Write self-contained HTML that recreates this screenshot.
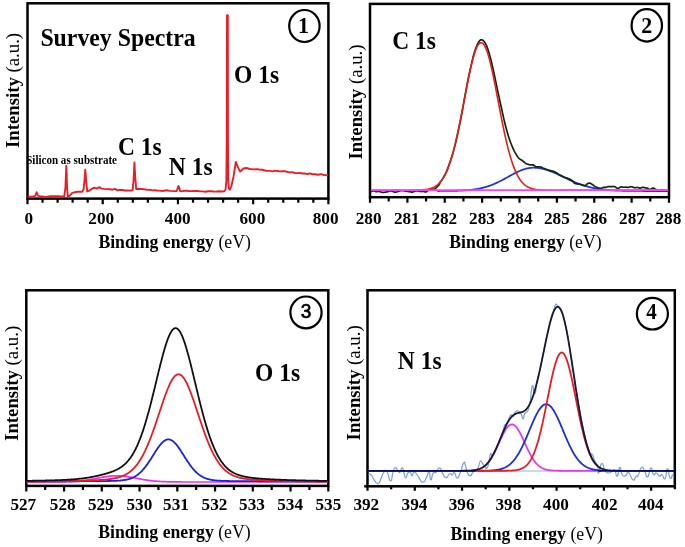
<!DOCTYPE html>
<html><head><meta charset="utf-8"><style>
html,body{margin:0;padding:0;background:#fff;}
svg{display:block;filter:blur(0.35px);}
</style></head><body>
<svg width="685" height="547" viewBox="0 0 685 547">
<rect width="685" height="547" fill="#fff"/>
<rect x="27.5" y="3.3" width="300.9" height="195.29999999999998" fill="none" stroke="#000" stroke-width="2.5"/>
<path d="M27.50,198.6 V204.2 M102.72,198.6 V204.2 M177.95,198.6 V204.2 M253.18,198.6 V204.2 M328.40,198.6 V204.2 M42.55,198.6 V202.79999999999998 M57.59,198.6 V202.79999999999998 M72.63,198.6 V202.79999999999998 M87.68,198.6 V202.79999999999998 M117.77,198.6 V202.79999999999998 M132.81,198.6 V202.79999999999998 M147.86,198.6 V202.79999999999998 M162.90,198.6 V202.79999999999998 M193.00,198.6 V202.79999999999998 M208.04,198.6 V202.79999999999998 M223.09,198.6 V202.79999999999998 M238.13,198.6 V202.79999999999998 M268.22,198.6 V202.79999999999998 M283.26,198.6 V202.79999999999998 M298.31,198.6 V202.79999999999998 M313.35,198.6 V202.79999999999998 " stroke="#000" stroke-width="2.2" fill="none"/>
<text transform="translate(28.9,224.1) scale(1.0,0.92)" font-family="Liberation Serif" font-size="17.2" font-weight="bold" text-anchor="middle" >0</text>
<text transform="translate(101.2,224.1) scale(1.0,0.92)" font-family="Liberation Serif" font-size="17.2" font-weight="bold" text-anchor="middle" >200</text>
<text transform="translate(177.7,224.1) scale(1.0,0.92)" font-family="Liberation Serif" font-size="17.2" font-weight="bold" text-anchor="middle" >400</text>
<text transform="translate(252.4,224.1) scale(1.0,0.92)" font-family="Liberation Serif" font-size="17.2" font-weight="bold" text-anchor="middle" >600</text>
<text transform="translate(325.6,224.1) scale(1.0,0.92)" font-family="Liberation Serif" font-size="17.2" font-weight="bold" text-anchor="middle" >800</text>
<text transform="translate(98.4,247.6) scale(1,1.058)" font-family="Liberation Serif" font-size="17.7" font-weight="bold">Binding energy <tspan font-weight="normal">(eV)</tspan></text>
<text transform="translate(19.3,148.0) scale(1,1.025) rotate(-90)" font-family="Liberation Serif" font-size="18.3" font-weight="bold">Intensity <tspan font-weight="normal">(a.u.)</tspan></text>
<text transform="translate(40.4,45.5) scale(1.0,1.07)" font-family="Liberation Serif" font-size="23.8" font-weight="bold" text-anchor="start" >Survey Spectra</text>
<text transform="translate(234.0,82.9) scale(1.0,1.07)" font-family="Liberation Serif" font-size="23.5" font-weight="bold" text-anchor="start" >O 1s</text>
<text transform="translate(118.0,154.5) scale(1.0,1.07)" font-family="Liberation Serif" font-size="23.5" font-weight="bold" text-anchor="start" >C 1s</text>
<text transform="translate(168.8,174.6) scale(1.0,1.07)" font-family="Liberation Serif" font-size="23.5" font-weight="bold" text-anchor="start" >N 1s</text>
<text transform="translate(26.2,163.8) scale(1.0,1.1)" font-family="Liberation Serif" font-size="11.05" font-weight="bold" text-anchor="start" >Silicon as substrate</text>
<ellipse cx="304.4" cy="26.0" rx="15.2" ry="16.0" fill="none" stroke="#000" stroke-width="2.2"/>
<text transform="translate(303.6,33.3) scale(1.0,1.07)" font-family="Liberation Serif" font-size="22" font-weight="bold" text-anchor="middle" >1</text>
<polyline points="28.50,196.60 33.00,196.40 35.30,195.80 36.60,192.20 37.90,195.60 40.00,196.50 42.50,196.46 45.00,196.88 47.50,196.78 50.00,196.30 52.84,196.12 55.68,196.20 58.52,196.12 61.36,196.50 64.20,196.30 65.40,188.00 66.30,165.60 67.10,188.00 67.90,197.10 70.00,195.30 72.30,192.90 75.00,192.20 77.60,191.70 80.00,191.60 82.00,191.90 83.60,189.50 84.50,180.00 85.30,169.60 86.20,181.00 87.20,191.50 90.00,190.30 92.00,188.80 94.20,187.70 96.50,188.60 98.50,187.60 99.60,187.20 101.00,188.40 103.80,188.90 106.90,189.08 110.00,189.30 112.50,189.71 115.00,188.95 117.50,190.30 120.00,189.90 122.50,190.04 125.00,190.49 127.50,190.38 130.00,190.60 132.60,190.20 133.60,180.00 134.40,162.50 135.30,178.00 136.20,189.00 140.60,188.90 143.73,189.10 146.87,189.73 150.00,189.90 152.50,190.42 155.00,190.30 157.50,190.60 160.00,190.61 162.50,190.96 165.00,190.48 167.50,190.31 170.00,190.90 173.40,191.09 176.80,191.00 177.80,187.50 178.50,185.90 179.30,188.00 180.20,191.20 183.03,190.99 185.86,190.59 188.69,191.00 191.51,191.15 194.34,190.93 197.17,190.85 200.00,191.40 202.68,191.40 205.36,191.69 208.03,191.29 210.71,191.10 213.39,191.48 216.07,191.58 218.74,191.22 221.42,191.50 224.10,191.30 225.60,189.50 226.40,180.00 226.75,140.00 227.00,15.30 227.80,15.30 227.95,140.00 228.25,180.00 228.80,188.30 229.80,189.80 231.40,186.00 233.60,176.20 235.80,161.90 238.00,167.40 240.20,171.60 243.50,168.50 246.30,168.00 250.10,169.00 253.40,169.42 256.70,169.10 259.47,169.49 262.23,169.75 265.00,170.50 267.50,170.77 270.00,170.89 272.50,171.33 275.00,170.65 277.50,171.02 280.00,171.40 282.50,171.31 285.00,171.19 287.50,172.04 290.00,172.38 292.50,172.14 295.00,173.08 297.50,173.09 300.00,173.00 302.50,173.44 305.00,173.57 307.50,173.98 310.00,173.40 312.50,174.30 315.00,174.30 318.05,174.74 321.10,174.13 324.15,175.10 327.20,175.20" fill="none" stroke="#ec1c24" stroke-width="1.9" stroke-linejoin="round" stroke-linecap="round" />
<rect x="370.0" y="3.9" width="299.0" height="193.29999999999998" fill="none" stroke="#000" stroke-width="2.5"/>
<path d="M370.00,197.2 V202.7 M407.38,197.2 V202.7 M444.75,197.2 V202.7 M482.12,197.2 V202.7 M519.50,197.2 V202.7 M556.88,197.2 V202.7 M594.25,197.2 V202.7 M631.62,197.2 V202.7 M669.00,197.2 V202.7 M388.69,197.2 V201.6 M426.06,197.2 V201.6 M463.44,197.2 V201.6 M500.81,197.2 V201.6 M538.19,197.2 V201.6 M575.56,197.2 V201.6 M612.94,197.2 V201.6 M650.31,197.2 V201.6 " stroke="#000" stroke-width="2.2" fill="none"/>
<text transform="translate(368.6,224.4) scale(1.0,0.92)" font-family="Liberation Serif" font-size="17.2" font-weight="bold" text-anchor="middle" >280</text>
<text transform="translate(406.8,224.4) scale(1.0,0.92)" font-family="Liberation Serif" font-size="17.2" font-weight="bold" text-anchor="middle" >281</text>
<text transform="translate(444.3,224.4) scale(1.0,0.92)" font-family="Liberation Serif" font-size="17.2" font-weight="bold" text-anchor="middle" >282</text>
<text transform="translate(482.0,224.4) scale(1.0,0.92)" font-family="Liberation Serif" font-size="17.2" font-weight="bold" text-anchor="middle" >283</text>
<text transform="translate(519.6,224.4) scale(1.0,0.92)" font-family="Liberation Serif" font-size="17.2" font-weight="bold" text-anchor="middle" >284</text>
<text transform="translate(556.9,224.4) scale(1.0,0.92)" font-family="Liberation Serif" font-size="17.2" font-weight="bold" text-anchor="middle" >285</text>
<text transform="translate(594.3,224.4) scale(1.0,0.92)" font-family="Liberation Serif" font-size="17.2" font-weight="bold" text-anchor="middle" >286</text>
<text transform="translate(632.0,224.4) scale(1.0,0.92)" font-family="Liberation Serif" font-size="17.2" font-weight="bold" text-anchor="middle" >287</text>
<text transform="translate(668.4,224.4) scale(1.0,0.92)" font-family="Liberation Serif" font-size="17.2" font-weight="bold" text-anchor="middle" >288</text>
<text transform="translate(449.2,247.7) scale(1,1.058)" font-family="Liberation Serif" font-size="17.7" font-weight="bold">Binding energy <tspan font-weight="normal">(eV)</tspan></text>
<text transform="translate(361.6,159.6) scale(1,1.025) rotate(-90)" font-family="Liberation Serif" font-size="18.3" font-weight="bold">Intensity <tspan font-weight="normal">(a.u.)</tspan></text>
<text transform="translate(392.2,48.8) scale(1.0,1.07)" font-family="Liberation Serif" font-size="23.5" font-weight="bold" text-anchor="start" >C 1s</text>
<ellipse cx="646.8" cy="25.4" rx="15.2" ry="16.2" fill="none" stroke="#000" stroke-width="2.2"/>
<text transform="translate(646.7,32.9) scale(1.0,1.07)" font-family="Liberation Serif" font-size="22" font-weight="bold" text-anchor="middle" >2</text>
<polyline points="438.00,190.98 438.50,190.98 439.00,190.98 439.50,190.97 440.00,190.97 440.50,190.97 441.00,190.97 441.50,190.97 442.00,190.96 442.50,190.96 443.00,190.96 443.50,190.95 444.00,190.95 444.50,190.95 445.00,190.94 445.50,190.94 446.00,190.94 446.50,190.93 447.00,190.93 447.50,190.92 448.00,190.92 448.50,190.91 449.00,190.91 449.50,190.90 450.00,190.89 450.50,190.88 451.00,190.88 451.50,190.87 452.00,190.86 452.50,190.85 453.00,190.84 453.50,190.83 454.00,190.82 454.50,190.81 455.00,190.80 455.50,190.79 456.00,190.77 456.50,190.76 457.00,190.74 457.50,190.73 458.00,190.71 458.50,190.70 459.00,190.68 459.50,190.66 460.00,190.64 460.50,190.62 461.00,190.60 461.50,190.57 462.00,190.55 462.50,190.52 463.00,190.50 463.50,190.47 464.00,190.44 464.50,190.41 465.00,190.38 465.50,190.34 466.00,190.31 466.50,190.27 467.00,190.23 467.50,190.19 468.00,190.15 468.50,190.10 469.00,190.06 469.50,190.01 470.00,189.96 470.50,189.91 471.00,189.86 471.50,189.80 472.00,189.74 472.50,189.68 473.00,189.62 473.50,189.55 474.00,189.48 474.50,189.41 475.00,189.34 475.50,189.26 476.00,189.18 476.50,189.10 477.00,189.02 477.50,188.93 478.00,188.84 478.50,188.74 479.00,188.65 479.50,188.55 480.00,188.44 480.50,188.33 481.00,188.22 481.50,188.11 482.00,187.99 482.50,187.87 483.00,187.75 483.50,187.62 484.00,187.49 484.50,187.35 485.00,187.21 485.50,187.07 486.00,186.92 486.50,186.77 487.00,186.61 487.50,186.45 488.00,186.29 488.50,186.12 489.00,185.95 489.50,185.78 490.00,185.60 490.50,185.42 491.00,185.23 491.50,185.04 492.00,184.84 492.50,184.64 493.00,184.44 493.50,184.23 494.00,184.02 494.50,183.81 495.00,183.59 495.50,183.37 496.00,183.14 496.50,182.91 497.00,182.68 497.50,182.45 498.00,182.21 498.50,181.96 499.00,181.72 499.50,181.47 500.00,181.22 500.50,180.97 501.00,180.71 501.50,180.45 502.00,180.19 502.50,179.92 503.00,179.66 503.50,179.39 504.00,179.12 504.50,178.85 505.00,178.58 505.50,178.30 506.00,178.03 506.50,177.75 507.00,177.48 507.50,177.20 508.00,176.92 508.50,176.65 509.00,176.37 509.50,176.09 510.00,175.82 510.50,175.54 511.00,175.27 511.50,175.00 512.00,174.72 512.50,174.45 513.00,174.19 513.50,173.92 514.00,173.66 514.50,173.40 515.00,173.14 515.50,172.89 516.00,172.64 516.50,172.39 517.00,172.15 517.50,171.91 518.00,171.68 518.50,171.45 519.00,171.22 519.50,171.00 520.00,170.79 520.50,170.58 521.00,170.38 521.50,170.18 522.00,169.99 522.50,169.81 523.00,169.63 523.50,169.46 524.00,169.29 524.50,169.14 525.00,168.99 525.50,168.85 526.00,168.71 526.50,168.59 527.00,168.47 527.50,168.36 528.00,168.26 528.50,168.16 529.00,168.08 529.50,168.00 530.00,167.93 530.50,167.87 531.00,167.82 531.50,167.78 532.00,167.75 532.50,167.72 533.00,167.71 533.50,167.70 534.00,167.70 534.50,167.71 535.00,167.73 535.50,167.75 536.00,167.78 536.50,167.81 537.00,167.85 537.50,167.90 538.00,167.96 538.50,168.02 539.00,168.09 539.50,168.16 540.00,168.24 540.50,168.33 541.00,168.42 541.50,168.52 542.00,168.63 542.50,168.74 543.00,168.85 543.50,168.98 544.00,169.10 544.50,169.24 545.00,169.38 545.50,169.52 546.00,169.67 546.50,169.82 547.00,169.98 547.50,170.15 548.00,170.32 548.50,170.49 549.00,170.67 549.50,170.85 550.00,171.04 550.50,171.23 551.00,171.42 551.50,171.62 552.00,171.82 552.50,172.02 553.00,172.23 553.50,172.44 554.00,172.66 554.50,172.87 555.00,173.09 555.50,173.31 556.00,173.54 556.50,173.76 557.00,173.99 557.50,174.22 558.00,174.45 558.50,174.68 559.00,174.92 559.50,175.15 560.00,175.39 560.50,175.63 561.00,175.86 561.50,176.10 562.00,176.34 562.50,176.58 563.00,176.82 563.50,177.06 564.00,177.30 564.50,177.54 565.00,177.78 565.50,178.02 566.00,178.25 566.50,178.49 567.00,178.73 567.50,178.96 568.00,179.19 568.50,179.43 569.00,179.66 569.50,179.89 570.00,180.12 570.50,180.34 571.00,180.57 571.50,180.79 572.00,181.01 572.50,181.23 573.00,181.45 573.50,181.67 574.00,181.88 574.50,182.09 575.00,182.30 575.50,182.50 576.00,182.71 576.50,182.91 577.00,183.10 577.50,183.30 578.00,183.49 578.50,183.68 579.00,183.87 579.50,184.06 580.00,184.24 580.50,184.42 581.00,184.59 581.50,184.76 582.00,184.93 582.50,185.10 583.00,185.27 583.50,185.43 584.00,185.59 584.50,185.74 585.00,185.89 585.50,186.04 586.00,186.19 586.50,186.33 587.00,186.47 587.50,186.61 588.00,186.74 588.50,186.88 589.00,187.00 589.50,187.13 590.00,187.25 590.50,187.37 591.00,187.49 591.50,187.60 592.00,187.72 592.50,187.83 593.00,187.93 593.50,188.03 594.00,188.14 594.50,188.23 595.00,188.33 595.50,188.42 596.00,188.51 596.50,188.60 597.00,188.69 597.50,188.77 598.00,188.85 598.50,188.93 599.00,189.00 599.50,189.08 600.00,189.15 600.50,189.22 601.00,189.29 601.50,189.35 602.00,189.42 602.50,189.48 603.00,189.54 603.50,189.59 604.00,189.65 604.50,189.70 605.00,189.75 605.50,189.80 606.00,189.85 606.50,189.90 607.00,189.95 607.50,189.99 608.00,190.03 608.50,190.07 609.00,190.11 609.50,190.15 610.00,190.19 610.50,190.22 611.00,190.25 611.50,190.29 612.00,190.32 612.50,190.35 613.00,190.38 613.50,190.41 614.00,190.43 614.50,190.46 615.00,190.48 615.50,190.51 616.00,190.53 616.50,190.55 617.00,190.57 617.50,190.59 618.00,190.61 618.50,190.63 619.00,190.65 619.50,190.66 620.00,190.68 620.50,190.70 621.00,190.71 621.50,190.72 622.00,190.74 622.50,190.75 623.00,190.76 623.50,190.78 624.00,190.79 624.50,190.80 625.00,190.81 625.50,190.82 626.00,190.83 626.50,190.84 627.00,190.84 627.50,190.85 628.00,190.86 628.50,190.87 629.00,190.88 629.50,190.88 630.00,190.89 630.50,190.89 631.00,190.90 631.50,190.91 632.00,190.91 632.50,190.92 633.00,190.92 633.50,190.92 634.00,190.93 634.50,190.93 635.00,190.94 635.50,190.94 636.00,190.94 636.50,190.95 637.00,190.95 637.50,190.95 638.00,190.96 638.50,190.96 639.00,190.96 639.50,190.96 640.00,190.97 640.50,190.97 641.00,190.97 641.50,190.97 642.00,190.97 642.50,190.97 643.00,190.98 643.50,190.98 644.00,190.98 644.50,190.98 645.00,190.98 645.50,190.98 646.00,190.98 646.50,190.98 647.00,190.99 647.50,190.99 648.00,190.99 648.50,190.99 649.00,190.99 649.50,190.99 650.00,190.99 650.50,190.99 651.00,190.99 651.50,190.99 652.00,190.99 652.50,190.99 653.00,190.99 653.50,190.99 654.00,190.99 654.50,190.99 655.00,191.00 655.50,191.00 656.00,191.00 656.50,191.00 657.00,191.00 657.50,191.00 658.00,191.00 658.50,191.00 659.00,191.00 659.50,191.00 660.00,191.00 660.50,191.00 661.00,191.00 661.50,191.00 662.00,191.00 662.50,191.00 663.00,191.00 663.50,191.00 664.00,191.00 664.50,191.00 665.00,191.00 665.50,191.00 666.00,191.00 666.50,191.00 667.00,191.00 667.50,191.00" fill="none" stroke="#2038d8" stroke-width="1.8" stroke-linejoin="round" stroke-linecap="round" />
<polyline points="371.50,191.36 372.00,191.20 372.50,191.03 373.00,190.91 373.50,190.86 374.00,190.90 374.50,191.05 375.00,191.25 375.50,191.46 376.00,191.59 376.50,191.64 377.00,191.57 377.50,191.45 378.00,191.35 378.50,191.32 379.00,191.39 379.50,191.53 380.00,191.72 380.50,191.90 381.00,192.07 381.50,192.19 382.00,192.26 382.50,192.30 383.00,192.31 383.50,192.31 384.00,192.29 384.50,192.25 385.00,192.19 385.50,192.09 386.00,192.01 386.50,191.92 387.00,191.83 387.50,191.74 388.00,191.60 388.50,191.42 389.00,191.21 389.50,191.03 390.00,190.89 390.50,190.83 391.00,190.86 391.50,190.96 392.00,191.10 392.50,191.28 393.00,191.49 393.50,191.72 394.00,191.94 394.50,192.11 395.00,192.20 395.50,192.22 396.00,192.13 396.50,191.99 397.00,191.82 397.50,191.63 398.00,191.44 398.50,191.25 399.00,191.07 399.50,190.93 400.00,190.82 400.50,190.76 401.00,190.73 401.50,190.71 402.00,190.69 402.50,190.69 403.00,190.70 403.50,190.76 404.00,190.81 404.50,190.90 405.00,190.96 405.50,191.05 406.00,191.15 406.50,191.25 407.00,191.33 407.50,191.41 408.00,191.48 408.50,191.53 409.00,191.57 409.50,191.61 410.00,191.70 410.50,191.80 411.00,191.93 411.50,192.07 412.00,192.15 412.50,192.14 413.00,192.03 413.50,191.83 414.00,191.59 414.50,191.36 415.00,191.16 415.50,191.02 416.00,190.93 416.50,190.88 417.00,190.86 417.50,190.86 418.00,190.89 418.50,190.97 419.00,191.09 419.50,191.24 420.00,191.38 420.50,191.50 421.00,191.55 421.50,191.54 422.00,191.50 422.50,191.45 423.00,191.45 423.50,191.49 424.00,191.59 424.50,191.74 425.00,191.89 425.50,191.96 426.00,191.90 426.50,191.69 427.00,191.33 427.50,190.89 428.00,190.47 428.50,190.10 429.00,189.83 429.50,189.64 430.00,189.68 430.50,189.55 431.00,189.43 431.50,189.35 432.00,189.30 432.50,189.27 433.00,189.24 433.50,189.18 434.00,189.06 434.50,188.87 435.00,188.61 435.50,188.26 436.00,187.85 436.50,187.39 437.00,186.89 437.50,186.39 438.00,185.88 438.50,185.37 439.00,184.84 439.50,184.29 440.00,182.41 440.50,181.81 441.00,181.19 441.50,180.56 442.00,179.87 442.50,179.12 443.00,178.29 443.50,177.42 444.00,176.53 444.50,175.62 445.00,174.70 445.50,173.74 446.00,172.72 446.50,171.60 447.00,170.38 447.50,169.10 448.00,167.76 448.50,166.39 449.00,165.00 449.50,163.60 450.00,162.18 450.50,160.75 451.00,159.29 451.50,157.78 452.00,156.21 452.50,154.57 453.00,152.83 453.50,151.00 454.00,149.09 454.50,147.12 455.00,145.12 455.50,143.09 456.00,141.04 456.50,138.95 457.00,136.79 457.50,134.56 458.00,132.24 458.50,129.86 459.00,127.45 459.50,125.01 460.00,122.56 460.50,120.10 461.00,117.59 461.50,115.00 462.00,112.35 462.50,109.63 463.00,106.88 463.50,104.12 464.00,101.38 464.50,98.66 465.00,95.97 465.50,93.28 466.00,90.58 466.50,87.87 467.00,85.16 467.50,82.49 468.00,79.88 468.50,77.39 469.00,75.01 469.50,72.73 470.00,70.52 470.50,68.34 471.00,66.17 471.50,63.97 472.00,61.79 472.50,59.63 473.00,57.54 473.50,55.58 474.00,53.75 474.50,52.07 475.00,50.53 475.50,49.10 476.00,47.75 476.50,46.48 477.00,45.30 477.50,44.20 478.00,43.22 478.50,42.34 479.00,41.59 479.50,40.94 480.00,40.41 480.50,40.01 481.00,39.78 481.50,39.72 482.00,39.82 482.50,40.07 483.00,40.43 483.50,40.89 484.00,41.43 484.50,42.06 485.00,42.78 485.50,43.61 486.00,44.56 486.50,45.63 487.00,46.84 487.50,48.17 488.00,49.62 488.50,51.19 489.00,52.83 489.50,54.55 490.00,56.35 490.50,58.21 491.00,60.16 491.50,62.18 492.00,64.26 492.50,66.40 493.00,68.60 493.50,70.85 494.00,73.15 494.50,75.50 495.00,77.90 495.50,80.31 496.00,82.72 496.50,85.14 497.00,87.53 497.50,89.91 498.00,92.26 498.50,94.58 499.00,96.89 499.50,99.17 500.00,101.45 500.50,103.71 501.00,105.97 501.50,108.24 502.00,110.52 502.50,112.82 503.00,115.12 503.50,117.40 504.00,119.62 504.50,121.76 505.00,123.80 505.50,125.77 506.00,127.68 506.50,129.52 507.00,131.32 507.50,133.07 508.00,134.77 508.50,136.41 509.00,137.98 509.50,139.48 510.00,140.90 510.50,142.26 511.00,143.55 511.50,144.80 512.00,146.01 512.50,147.20 513.00,148.36 513.50,149.48 514.00,150.53 514.50,151.51 515.00,152.42 515.50,153.27 516.00,154.10 516.50,154.90 517.00,155.71 517.50,156.49 518.00,157.21 518.50,157.84 519.00,158.37 519.50,158.79 520.00,159.14 520.50,159.44 521.00,159.76 521.50,160.07 522.00,160.41 522.50,160.79 523.00,161.17 523.50,161.58 524.00,162.01 524.50,162.44 525.00,162.87 525.50,163.24 526.00,163.55 526.50,163.78 527.00,163.96 527.50,164.10 528.00,164.25 528.50,164.42 529.00,164.58 529.50,164.72 530.00,164.82 530.50,164.85 531.00,164.84 531.50,164.80 532.00,164.78 532.50,164.81 533.00,164.90 533.50,165.09 534.00,165.38 534.50,165.73 535.00,166.11 535.50,166.45 536.00,166.71 536.50,166.88 537.00,166.94 537.50,166.94 538.00,166.88 538.50,166.81 539.00,166.76 539.50,166.76 540.00,166.83 540.50,166.96 541.00,167.14 541.50,167.36 542.00,167.58 542.50,167.80 543.00,168.03 543.50,168.24 544.00,168.46 544.50,168.67 545.00,168.85 545.50,169.03 546.00,169.22 546.50,169.42 547.00,169.62 547.50,169.82 548.00,170.01 548.50,170.16 549.00,170.29 549.50,170.41 550.00,170.52 550.50,170.64 551.00,170.76 551.50,170.86 552.00,170.95 552.50,171.03 553.00,171.12 553.50,171.26 554.00,171.44 554.50,171.66 555.00,171.91 555.50,172.19 556.00,172.49 556.50,172.80 557.00,173.14 557.50,173.48 558.00,173.83 558.50,174.17 559.00,174.48 559.50,174.76 560.00,175.01 560.50,175.24 561.00,175.46 561.50,175.69 562.00,175.96 562.50,176.25 563.00,176.55 563.50,176.83 564.00,177.08 564.50,177.27 565.00,177.43 565.50,177.57 566.00,177.72 566.50,177.89 567.00,178.08 567.50,178.29 568.00,178.49 568.50,178.70 569.00,178.90 569.50,179.11 570.00,179.33 570.50,179.50 571.00,179.80 571.50,180.16 572.00,180.61 572.50,181.13 573.00,181.68 573.50,182.22 574.00,182.72 574.50,183.12 575.00,183.44 575.50,183.64 576.00,183.76 576.50,183.82 577.00,183.86 577.50,183.90 578.00,183.95 578.50,184.00 579.00,184.06 579.50,184.13 580.00,184.24 580.50,184.38 581.00,184.54 581.50,184.71 582.00,184.89 582.50,185.07 583.00,185.25 583.50,185.41 584.00,185.56 584.50,185.61 585.00,185.55 585.50,185.37 586.00,185.06 586.50,184.64 587.00,184.19 587.50,183.75 588.00,183.39 588.50,183.14 589.00,183.02 589.50,183.04 590.00,183.17 590.50,183.37 591.00,183.63 591.50,183.94 592.00,184.28 592.50,184.64 593.00,185.03 593.50,185.41 594.00,185.79 594.50,186.13 595.00,186.46 595.50,186.73 596.00,186.97 596.50,187.16 597.00,187.33 597.50,187.51 598.00,187.69 598.50,187.92 599.00,188.14 599.50,188.31 600.00,188.39 600.50,188.39 601.00,188.31 601.50,188.16 602.00,187.98 602.50,187.77 603.00,187.55 603.50,187.39 604.00,187.32 604.50,187.32 605.00,187.37 605.50,187.37 606.00,187.30 606.50,187.15 607.00,186.95 607.50,186.77 608.00,186.64 608.50,186.56 609.00,186.53 609.50,186.55 610.00,186.60 610.50,186.66 611.00,186.70 611.50,186.70 612.00,186.65 612.50,186.57 613.00,186.49 613.50,186.45 614.00,186.48 614.50,186.60 615.00,186.81 615.50,187.12 616.00,187.47 616.50,187.82 617.00,188.13 617.50,188.31 618.00,188.33 618.50,188.20 619.00,187.94 619.50,187.61 620.00,187.29 620.50,187.05 621.00,186.91 621.50,186.90 622.00,186.97 622.50,187.08 623.00,187.19 623.50,187.26 624.00,187.28 624.50,187.25 625.00,187.21 625.50,187.17 626.00,187.20 626.50,187.25 627.00,187.32 627.50,187.38 628.00,187.38 628.50,187.30 629.00,187.16 629.50,186.98 630.00,186.83 630.50,186.73 631.00,186.69 631.50,186.73 632.00,186.84 632.50,186.99 633.00,187.19 633.50,187.39 634.00,187.58 634.50,187.71 635.00,187.74 635.50,187.70 636.00,187.61 636.50,187.51 637.00,187.47 637.50,187.50 638.00,187.62 638.50,187.77 639.00,187.94 639.50,188.07 640.00,188.11 640.50,188.04 641.00,187.89 641.50,187.69 642.00,187.51 642.50,187.39 643.00,187.37 643.50,187.43 644.00,187.52 644.50,187.64 645.00,187.77 645.50,187.86 646.00,187.94 646.50,188.02 647.00,188.15 647.50,188.33 648.00,188.59 648.50,188.86 649.00,189.11 649.50,189.29 650.00,189.37 650.50,189.30 651.00,189.10 651.50,188.80 652.00,188.45 652.50,188.18 653.00,188.03 653.50,188.08 654.00,188.30 654.50,188.62 655.00,188.99 655.50,189.33 656.00,189.62 656.50,189.87 657.00,190.07 657.50,190.22 658.00,190.33 658.50,190.42 659.00,190.50 659.50,190.53 660.00,190.48 660.50,190.37 661.00,190.24 661.50,190.12 662.00,190.08 662.50,190.10 663.00,190.17 663.50,190.24 664.00,190.30 664.50,190.34 665.00,190.40 665.50,190.48 666.00,190.58 666.50,190.65 667.00,190.68 667.50,190.66" fill="none" stroke="#0d2a0d" stroke-width="1.7" stroke-linejoin="round" stroke-linecap="round" />
<polyline points="371.50,190.30 372.00,190.30 372.50,190.30 373.00,190.30 373.50,190.30 374.00,190.30 374.50,190.30 375.00,190.30 375.50,190.30 376.00,190.30 376.50,190.30 377.00,190.30 377.50,190.30 378.00,190.30 378.50,190.30 379.00,190.30 379.50,190.30 380.00,190.30 380.50,190.30 381.00,190.30 381.50,190.30 382.00,190.30 382.50,190.30 383.00,190.30 383.50,190.30 384.00,190.30 384.50,190.30 385.00,190.30 385.50,190.30 386.00,190.30 386.50,190.30 387.00,190.30 387.50,190.30 388.00,190.30 388.50,190.30 389.00,190.30 389.50,190.30 390.00,190.30 390.50,190.30 391.00,190.30 391.50,190.30 392.00,190.30 392.50,190.30 393.00,190.30 393.50,190.30 394.00,190.30 394.50,190.30 395.00,190.30 395.50,190.30 396.00,190.30 396.50,190.30 397.00,190.30 397.50,190.30 398.00,190.30 398.50,190.30 399.00,190.30 399.50,190.30 400.00,190.30 400.50,190.30 401.00,190.30 401.50,190.30 402.00,190.30 402.50,190.30 403.00,190.30 403.50,190.30 404.00,190.29 404.50,190.29 405.00,190.29 405.50,190.29 406.00,190.29 406.50,190.29 407.00,190.29 407.50,190.29 408.00,190.29 408.50,190.28 409.00,190.28 409.50,190.28 410.00,190.28 410.50,190.27 411.00,190.27 411.50,190.27 412.00,190.26 412.50,190.26 413.00,190.25 413.50,190.25 414.00,190.24 414.50,190.23 415.00,190.22 415.50,190.21 416.00,190.20 416.50,190.19 417.00,190.18 417.50,190.17 418.00,190.15 418.50,190.13 419.00,190.11 419.50,190.09 420.00,190.07 420.50,190.04 421.00,190.01 421.50,189.98 422.00,189.95 422.50,189.91 423.00,189.87 423.50,189.83 424.00,189.78 424.50,189.72 425.00,189.66 425.50,189.60 426.00,189.53 426.50,189.45 427.00,189.37 427.50,189.28 428.00,189.18 428.50,189.07 429.00,188.95 429.50,188.83 430.00,188.69 430.50,188.54 431.00,188.38 431.50,188.21 432.00,188.02 432.50,187.82 433.00,187.60 433.50,187.37 434.00,187.12 434.50,186.85 435.00,186.57 435.50,186.26 436.00,185.93 436.50,185.57 437.00,185.20 437.50,184.80 438.00,184.37 438.50,183.91 439.00,183.42 439.50,182.91 440.00,182.36 440.50,181.78 441.00,181.16 441.50,180.51 442.00,179.82 442.50,179.09 443.00,178.32 443.50,177.51 444.00,176.66 444.50,175.76 445.00,174.82 445.50,173.83 446.00,172.79 446.50,171.70 447.00,170.56 447.50,169.37 448.00,168.12 448.50,166.83 449.00,165.48 449.50,164.07 450.00,162.61 450.50,161.09 451.00,159.52 451.50,157.88 452.00,156.20 452.50,154.45 453.00,152.65 453.50,150.79 454.00,148.87 454.50,146.90 455.00,144.88 455.50,142.80 456.00,140.67 456.50,138.49 457.00,136.26 457.50,133.99 458.00,131.67 458.50,129.30 459.00,126.90 459.50,124.45 460.00,121.98 460.50,119.47 461.00,116.93 461.50,114.37 462.00,111.78 462.50,109.18 463.00,106.56 463.50,103.93 464.00,101.30 464.50,98.67 465.00,96.04 465.50,93.42 466.00,90.81 466.50,88.22 467.00,85.66 467.50,83.12 468.00,80.62 468.50,78.15 469.00,75.73 469.50,73.36 470.00,71.04 470.50,68.78 471.00,66.58 471.50,64.45 472.00,62.40 472.50,60.43 473.00,58.54 473.50,56.74 474.00,55.03 474.50,53.41 475.00,51.90 475.50,50.49 476.00,49.19 476.50,48.01 477.00,46.93 477.50,45.97 478.00,45.13 478.50,44.42 479.00,43.82 479.50,43.35 480.00,43.01 480.50,42.79 481.00,42.70 481.50,42.74 482.00,42.91 482.50,43.20 483.00,43.62 483.50,44.16 484.00,44.83 484.50,45.62 485.00,46.53 485.50,47.56 486.00,48.71 486.50,49.96 487.00,51.33 487.50,52.80 488.00,54.37 488.50,56.04 489.00,57.81 489.50,59.66 490.00,61.60 490.50,63.62 491.00,65.72 491.50,67.89 492.00,70.12 492.50,72.42 493.00,74.77 493.50,77.18 494.00,79.62 494.50,82.11 495.00,84.64 495.50,87.19 496.00,89.78 496.50,92.38 497.00,94.99 497.50,97.62 498.00,100.25 498.50,102.88 499.00,105.51 499.50,108.13 500.00,110.74 500.50,113.33 501.00,115.91 501.50,118.46 502.00,120.98 502.50,123.47 503.00,125.92 503.50,128.34 504.00,130.73 504.50,133.06 505.00,135.36 505.50,137.61 506.00,139.81 506.50,141.96 507.00,144.06 507.50,146.10 508.00,148.09 508.50,150.03 509.00,151.91 509.50,153.74 510.00,155.50 510.50,157.22 511.00,158.87 511.50,160.47 512.00,162.01 512.50,163.49 513.00,164.92 513.50,166.29 514.00,167.61 514.50,168.88 515.00,170.09 515.50,171.25 516.00,172.36 516.50,173.42 517.00,174.43 517.50,175.39 518.00,176.30 518.50,177.18 519.00,178.00 519.50,178.79 520.00,179.53 520.50,180.24 521.00,180.91 521.50,181.54 522.00,182.13 522.50,182.69 523.00,183.22 523.50,183.72 524.00,184.19 524.50,184.63 525.00,185.04 525.50,185.43 526.00,185.79 526.50,186.13 527.00,186.44 527.50,186.74 528.00,187.02 528.50,187.27 529.00,187.51 529.50,187.74 530.00,187.94 530.50,188.13 531.00,188.31 531.50,188.48 532.00,188.63 532.50,188.77 533.00,188.90 533.50,189.02 534.00,189.13 534.50,189.24 535.00,189.33 535.50,189.42 536.00,189.50 536.50,189.57 537.00,189.64 537.50,189.70 538.00,189.75 538.50,189.81 539.00,189.85 539.50,189.90 540.00,189.93 540.50,189.97 541.00,190.00 541.50,190.03 542.00,190.06 542.50,190.08 543.00,190.10 543.50,190.12 544.00,190.14 544.50,190.16 545.00,190.17 545.50,190.19 546.00,190.20 546.50,190.21 547.00,190.22 547.50,190.23 548.00,190.24 548.50,190.24 549.00,190.25 549.50,190.25 550.00,190.26 550.50,190.26 551.00,190.27 551.50,190.27 552.00,190.28 552.50,190.28 553.00,190.28 553.50,190.28 554.00,190.29 554.50,190.29 555.00,190.29 555.50,190.29 556.00,190.29 556.50,190.29 557.00,190.29 557.50,190.29 558.00,190.29 558.50,190.30 559.00,190.30 559.50,190.30 560.00,190.30 560.50,190.30 561.00,190.30 561.50,190.30 562.00,190.30 562.50,190.30 563.00,190.30 563.50,190.30 564.00,190.30 564.50,190.30 565.00,190.30 565.50,190.30 566.00,190.30 566.50,190.30 567.00,190.30 567.50,190.30 568.00,190.30 568.50,190.30 569.00,190.30 569.50,190.30 570.00,190.30 570.50,190.30 571.00,190.30 571.50,190.30 572.00,190.30 572.50,190.30 573.00,190.30 573.50,190.30 574.00,190.30 574.50,190.30 575.00,190.30 575.50,190.30 576.00,190.30 576.50,190.30 577.00,190.30 577.50,190.30 578.00,190.30 578.50,190.30 579.00,190.30 579.50,190.30 580.00,190.30 580.50,190.30 581.00,190.30 581.50,190.30 582.00,190.30 582.50,190.30 583.00,190.30 583.50,190.30 584.00,190.30 584.50,190.30 585.00,190.30 585.50,190.30 586.00,190.30 586.50,190.30 587.00,190.30 587.50,190.30 588.00,190.30 588.50,190.30 589.00,190.30 589.50,190.30 590.00,190.30 590.50,190.30 591.00,190.30 591.50,190.30 592.00,190.30 592.50,190.30 593.00,190.30 593.50,190.30 594.00,190.30 594.50,190.30 595.00,190.30 595.50,190.30 596.00,190.30 596.50,190.30 597.00,190.30 597.50,190.30 598.00,190.30 598.50,190.30 599.00,190.30 599.50,190.30 600.00,190.30 600.50,190.30 601.00,190.30 601.50,190.30 602.00,190.30 602.50,190.30 603.00,190.30 603.50,190.30 604.00,190.30 604.50,190.30 605.00,190.30 605.50,190.30 606.00,190.30 606.50,190.30 607.00,190.30 607.50,190.30 608.00,190.30 608.50,190.30 609.00,190.30 609.50,190.30 610.00,190.30 610.50,190.30 611.00,190.30 611.50,190.30 612.00,190.30 612.50,190.30 613.00,190.30 613.50,190.30 614.00,190.30 614.50,190.30 615.00,190.30 615.50,190.30 616.00,190.30 616.50,190.30 617.00,190.30 617.50,190.30 618.00,190.30 618.50,190.30 619.00,190.30 619.50,190.30 620.00,190.30 620.50,190.30 621.00,190.30 621.50,190.30 622.00,190.30 622.50,190.30 623.00,190.30 623.50,190.30 624.00,190.30 624.50,190.30 625.00,190.30 625.50,190.30 626.00,190.30 626.50,190.30 627.00,190.30 627.50,190.30 628.00,190.30 628.50,190.30 629.00,190.30 629.50,190.30 630.00,190.30 630.50,190.30 631.00,190.30 631.50,190.30 632.00,190.30 632.50,190.30 633.00,190.30 633.50,190.30 634.00,190.30 634.50,190.30 635.00,190.30 635.50,190.30 636.00,190.30 636.50,190.30 637.00,190.30 637.50,190.30 638.00,190.30 638.50,190.30 639.00,190.30 639.50,190.30 640.00,190.30 640.50,190.30 641.00,190.30 641.50,190.30 642.00,190.30 642.50,190.30 643.00,190.30 643.50,190.30 644.00,190.30 644.50,190.30 645.00,190.30 645.50,190.30 646.00,190.30 646.50,190.30 647.00,190.30 647.50,190.30 648.00,190.30 648.50,190.30 649.00,190.30 649.50,190.30 650.00,190.30 650.50,190.30 651.00,190.30 651.50,190.30 652.00,190.30 652.50,190.30 653.00,190.30 653.50,190.30 654.00,190.30 654.50,190.30 655.00,190.30 655.50,190.30 656.00,190.30 656.50,190.30 657.00,190.30 657.50,190.30 658.00,190.30 658.50,190.30 659.00,190.30 659.50,190.30 660.00,190.30 660.50,190.30 661.00,190.30 661.50,190.30 662.00,190.30 662.50,190.30 663.00,190.30 663.50,190.30 664.00,190.30 664.50,190.30 665.00,190.30 665.50,190.30 666.00,190.30 666.50,190.30 667.00,190.30 667.50,190.30" fill="none" stroke="#e81c1c" stroke-width="1.6" stroke-linejoin="round" stroke-linecap="round" />
<polyline points="371.50,190.10 667.80,190.10" fill="none" stroke="#ff3cff" stroke-width="1.6" stroke-linejoin="round" stroke-linecap="round" />
<rect x="26.3" y="290.3" width="302.0" height="195.59999999999997" fill="none" stroke="#000" stroke-width="2.5"/>
<path d="M26.30,485.9 V491.59999999999997 M64.05,485.9 V491.59999999999997 M101.80,485.9 V491.59999999999997 M139.55,485.9 V491.59999999999997 M177.30,485.9 V491.59999999999997 M215.05,485.9 V491.59999999999997 M252.80,485.9 V491.59999999999997 M290.55,485.9 V491.59999999999997 M328.30,485.9 V491.59999999999997 M45.17,485.9 V489.9 M82.92,485.9 V489.9 M120.67,485.9 V489.9 M158.43,485.9 V489.9 M196.18,485.9 V489.9 M233.93,485.9 V489.9 M271.68,485.9 V489.9 M309.43,485.9 V489.9 " stroke="#000" stroke-width="2.2" fill="none"/>
<text transform="translate(23.3,510.2) scale(1.0,0.92)" font-family="Liberation Serif" font-size="17.2" font-weight="bold" text-anchor="middle" >527</text>
<text transform="translate(62.7,510.2) scale(1.0,0.92)" font-family="Liberation Serif" font-size="17.2" font-weight="bold" text-anchor="middle" >528</text>
<text transform="translate(100.8,510.2) scale(1.0,0.92)" font-family="Liberation Serif" font-size="17.2" font-weight="bold" text-anchor="middle" >529</text>
<text transform="translate(139.4,510.2) scale(1.0,0.92)" font-family="Liberation Serif" font-size="17.2" font-weight="bold" text-anchor="middle" >530</text>
<text transform="translate(176.0,510.2) scale(1.0,0.92)" font-family="Liberation Serif" font-size="17.2" font-weight="bold" text-anchor="middle" >531</text>
<text transform="translate(214.5,510.2) scale(1.0,0.92)" font-family="Liberation Serif" font-size="17.2" font-weight="bold" text-anchor="middle" >532</text>
<text transform="translate(252.0,510.2) scale(1.0,0.92)" font-family="Liberation Serif" font-size="17.2" font-weight="bold" text-anchor="middle" >533</text>
<text transform="translate(290.1,510.2) scale(1.0,0.92)" font-family="Liberation Serif" font-size="17.2" font-weight="bold" text-anchor="middle" >534</text>
<text transform="translate(328.4,510.2) scale(1.0,0.92)" font-family="Liberation Serif" font-size="17.2" font-weight="bold" text-anchor="middle" >535</text>
<text transform="translate(98.2,537.9) scale(1,1.058)" font-family="Liberation Serif" font-size="17.7" font-weight="bold">Binding energy <tspan font-weight="normal">(eV)</tspan></text>
<text transform="translate(17.9,440.9) scale(1,1.025) rotate(-90)" font-family="Liberation Serif" font-size="18.3" font-weight="bold">Intensity <tspan font-weight="normal">(a.u.)</tspan></text>
<text transform="translate(255.0,381.2) scale(1.0,1.07)" font-family="Liberation Serif" font-size="23.5" font-weight="bold" text-anchor="start" >O 1s</text>
<ellipse cx="306.0" cy="312.4" rx="15.6" ry="15.9" fill="none" stroke="#000" stroke-width="2.2"/>
<text transform="translate(306.0,318.2) scale(1.0,1.02)" font-family="Liberation Sans" font-size="19" font-weight="normal" text-anchor="middle" stroke="#000" stroke-width="0.7">3</text>
<polyline points="27.50,482.00 28.00,482.00 28.50,482.00 29.00,482.00 29.50,482.00 30.00,482.00 30.50,482.00 31.00,482.00 31.50,482.00 32.00,482.00 32.50,482.00 33.00,482.00 33.50,482.00 34.00,482.00 34.50,482.00 35.00,482.00 35.50,482.00 36.00,482.00 36.50,482.00 37.00,482.00 37.50,482.00 38.00,482.00 38.50,482.00 39.00,482.00 39.50,482.00 40.00,482.00 40.50,482.00 41.00,482.00 41.50,482.00 42.00,482.00 42.50,482.00 43.00,481.99 43.50,481.99 44.00,481.99 44.50,481.99 45.00,481.99 45.50,481.99 46.00,481.99 46.50,481.99 47.00,481.99 47.50,481.99 48.00,481.99 48.50,481.99 49.00,481.98 49.50,481.98 50.00,481.98 50.50,481.98 51.00,481.98 51.50,481.98 52.00,481.97 52.50,481.97 53.00,481.97 53.50,481.97 54.00,481.96 54.50,481.96 55.00,481.96 55.50,481.95 56.00,481.95 56.50,481.94 57.00,481.94 57.50,481.93 58.00,481.93 58.50,481.92 59.00,481.92 59.50,481.91 60.00,481.90 60.50,481.90 61.00,481.89 61.50,481.88 62.00,481.87 62.50,481.86 63.00,481.85 63.50,481.84 64.00,481.83 64.50,481.82 65.00,481.81 65.50,481.79 66.00,481.78 66.50,481.76 67.00,481.75 67.50,481.73 68.00,481.71 68.50,481.69 69.00,481.68 69.50,481.65 70.00,481.63 70.50,481.61 71.00,481.59 71.50,481.56 72.00,481.53 72.50,481.51 73.00,481.48 73.50,481.45 74.00,481.42 74.50,481.38 75.00,481.35 75.50,481.31 76.00,481.27 76.50,481.24 77.00,481.19 77.50,481.15 78.00,481.11 78.50,481.06 79.00,481.02 79.50,480.97 80.00,480.92 80.50,480.86 81.00,480.81 81.50,480.75 82.00,480.69 82.50,480.64 83.00,480.57 83.50,480.51 84.00,480.45 84.50,480.38 85.00,480.31 85.50,480.24 86.00,480.17 86.50,480.09 87.00,480.02 87.50,479.94 88.00,479.86 88.50,479.78 89.00,479.70 89.50,479.62 90.00,479.53 90.50,479.45 91.00,479.36 91.50,479.27 92.00,479.18 92.50,479.09 93.00,479.00 93.50,478.90 94.00,478.81 94.50,478.72 95.00,478.62 95.50,478.53 96.00,478.43 96.50,478.34 97.00,478.24 97.50,478.14 98.00,478.05 98.50,477.95 99.00,477.86 99.50,477.76 100.00,477.67 100.50,477.58 101.00,477.48 101.50,477.39 102.00,477.30 102.50,477.21 103.00,477.13 103.50,477.04 104.00,476.96 104.50,476.88 105.00,476.80 105.50,476.72 106.00,476.64 106.50,476.57 107.00,476.50 107.50,476.43 108.00,476.37 108.50,476.31 109.00,476.25 109.50,476.19 110.00,476.14 110.50,476.09 111.00,476.05 111.50,476.01 112.00,475.97 112.50,475.93 113.00,475.90 113.50,475.88 114.00,475.85 114.50,475.84 115.00,475.82 115.50,475.81 116.00,475.80 116.50,475.80 117.00,475.80 117.50,475.81 118.00,475.82 118.50,475.83 119.00,475.85 119.50,475.87 120.00,475.89 120.50,475.92 121.00,475.95 121.50,475.99 122.00,476.03 122.50,476.07 123.00,476.12 123.50,476.17 124.00,476.23 124.50,476.28 125.00,476.34 125.50,476.41 126.00,476.47 126.50,476.54 127.00,476.61 127.50,476.69 128.00,476.76 128.50,476.84 129.00,476.92 129.50,477.01 130.00,477.09 130.50,477.18 131.00,477.27 131.50,477.36 132.00,477.45 132.50,477.54 133.00,477.63 133.50,477.72 134.00,477.82 134.50,477.91 135.00,478.01 135.50,478.11 136.00,478.20 136.50,478.30 137.00,478.39 137.50,478.49 138.00,478.58 138.50,478.68 139.00,478.77 139.50,478.87 140.00,478.96 140.50,479.05 141.00,479.14 141.50,479.23 142.00,479.32 142.50,479.41 143.00,479.50 143.50,479.58 144.00,479.67 144.50,479.75 145.00,479.83 145.50,479.91 146.00,479.99 146.50,480.06 147.00,480.14 147.50,480.21 148.00,480.28 148.50,480.35 149.00,480.42 149.50,480.48 150.00,480.55 150.50,480.61 151.00,480.67 151.50,480.73 152.00,480.79 152.50,480.84 153.00,480.89 153.50,480.95 154.00,481.00 154.50,481.04 155.00,481.09 155.50,481.13 156.00,481.18 156.50,481.22 157.00,481.26 157.50,481.30 158.00,481.33 158.50,481.37 159.00,481.40 159.50,481.43 160.00,481.47 160.50,481.50 161.00,481.52 161.50,481.55 162.00,481.58 162.50,481.60 163.00,481.62 163.50,481.65 164.00,481.67 164.50,481.69 165.00,481.71 165.50,481.72 166.00,481.74 166.50,481.76 167.00,481.77 167.50,481.79 168.00,481.80 168.50,481.81 169.00,481.83 169.50,481.84 170.00,481.85 170.50,481.86 171.00,481.87 171.50,481.88 172.00,481.89 172.50,481.89 173.00,481.90 173.50,481.91 174.00,481.91 174.50,481.92 175.00,481.93 175.50,481.93 176.00,481.94 176.50,481.94 177.00,481.95 177.50,481.95 178.00,481.95 178.50,481.96 179.00,481.96 179.50,481.96 180.00,481.97 180.50,481.97 181.00,481.97 181.50,481.97 182.00,481.98 182.50,481.98 183.00,481.98 183.50,481.98 184.00,481.98 184.50,481.98 185.00,481.99 185.50,481.99 186.00,481.99 186.50,481.99 187.00,481.99 187.50,481.99 188.00,481.99 188.50,481.99 189.00,481.99 189.50,481.99 190.00,481.99 190.50,481.99 191.00,482.00 191.50,482.00 192.00,482.00 192.50,482.00 193.00,482.00 193.50,482.00 194.00,482.00 194.50,482.00 195.00,482.00 195.50,482.00 196.00,482.00 196.50,482.00 197.00,482.00 197.50,482.00 198.00,482.00 198.50,482.00 199.00,482.00 199.50,482.00 200.00,482.00 200.50,482.00 201.00,482.00 201.50,482.00 202.00,482.00 202.50,482.00 203.00,482.00 203.50,482.00 204.00,482.00 204.50,482.00 205.00,482.00 205.50,482.00 206.00,482.00 206.50,482.00 207.00,482.00 207.50,482.00 208.00,482.00 208.50,482.00 209.00,482.00 209.50,482.00 210.00,482.00 210.50,482.00 211.00,482.00 211.50,482.00 212.00,482.00 212.50,482.00 213.00,482.00 213.50,482.00 214.00,482.00 214.50,482.00 215.00,482.00 215.50,482.00 216.00,482.00 216.50,482.00 217.00,482.00 217.50,482.00 218.00,482.00 218.50,482.00 219.00,482.00 219.50,482.00 220.00,482.00 220.50,482.00 221.00,482.00 221.50,482.00 222.00,482.00 222.50,482.00 223.00,482.00 223.50,482.00 224.00,482.00 224.50,482.00 225.00,482.00 225.50,482.00 226.00,482.00 226.50,482.00 227.00,482.00 227.50,482.00 228.00,482.00 228.50,482.00 229.00,482.00 229.50,482.00 230.00,482.00 230.50,482.00 231.00,482.00 231.50,482.00 232.00,482.00 232.50,482.00 233.00,482.00 233.50,482.00 234.00,482.00 234.50,482.00 235.00,482.00 235.50,482.00 236.00,482.00 236.50,482.00 237.00,482.00 237.50,482.00 238.00,482.00 238.50,482.00 239.00,482.00 239.50,482.00 240.00,482.00 240.50,482.00 241.00,482.00 241.50,482.00 242.00,482.00 242.50,482.00 243.00,482.00 243.50,482.00 244.00,482.00 244.50,482.00 245.00,482.00 245.50,482.00 246.00,482.00 246.50,482.00 247.00,482.00 247.50,482.00 248.00,482.00 248.50,482.00 249.00,482.00 249.50,482.00 250.00,482.00 250.50,482.00 251.00,482.00 251.50,482.00 252.00,482.00 252.50,482.00 253.00,482.00 253.50,482.00 254.00,482.00 254.50,482.00 255.00,482.00 255.50,482.00 256.00,482.00 256.50,482.00 257.00,482.00 257.50,482.00 258.00,482.00 258.50,482.00 259.00,482.00 259.50,482.00 260.00,482.00 260.50,482.00 261.00,482.00 261.50,482.00 262.00,482.00 262.50,482.00 263.00,482.00 263.50,482.00 264.00,482.00 264.50,482.00 265.00,482.00 265.50,482.00 266.00,482.00 266.50,482.00 267.00,482.00 267.50,482.00 268.00,482.00 268.50,482.00 269.00,482.00 269.50,482.00 270.00,482.00 270.50,482.00 271.00,482.00 271.50,482.00 272.00,482.00 272.50,482.00 273.00,482.00 273.50,482.00 274.00,482.00 274.50,482.00 275.00,482.00 275.50,482.00 276.00,482.00 276.50,482.00 277.00,482.00 277.50,482.00 278.00,482.00 278.50,482.00 279.00,482.00 279.50,482.00 280.00,482.00 280.50,482.00 281.00,482.00 281.50,482.00 282.00,482.00 282.50,482.00 283.00,482.00 283.50,482.00 284.00,482.00 284.50,482.00 285.00,482.00 285.50,482.00 286.00,482.00 286.50,482.00 287.00,482.00 287.50,482.00 288.00,482.00 288.50,482.00 289.00,482.00 289.50,482.00 290.00,482.00 290.50,482.00 291.00,482.00 291.50,482.00 292.00,482.00 292.50,482.00 293.00,482.00 293.50,482.00 294.00,482.00 294.50,482.00 295.00,482.00 295.50,482.00 296.00,482.00 296.50,482.00 297.00,482.00 297.50,482.00 298.00,482.00 298.50,482.00 299.00,482.00 299.50,482.00 300.00,482.00 300.50,482.00 301.00,482.00 301.50,482.00 302.00,482.00 302.50,482.00 303.00,482.00 303.50,482.00 304.00,482.00 304.50,482.00 305.00,482.00 305.50,482.00 306.00,482.00 306.50,482.00 307.00,482.00 307.50,482.00 308.00,482.00 308.50,482.00 309.00,482.00 309.50,482.00 310.00,482.00 310.50,482.00 311.00,482.00 311.50,482.00 312.00,482.00 312.50,482.00 313.00,482.00 313.50,482.00 314.00,482.00 314.50,482.00 315.00,482.00 315.50,482.00 316.00,482.00 316.50,482.00 317.00,482.00 317.50,482.00 318.00,482.00 318.50,482.00 319.00,482.00 319.50,482.00 320.00,482.00 320.50,482.00 321.00,482.00 321.50,482.00 322.00,482.00 322.50,482.00 323.00,482.00 323.50,482.00 324.00,482.00 324.50,482.00 325.00,482.00 325.50,482.00 326.00,482.00 326.50,482.00 327.00,482.00" fill="none" stroke="#ee30ee" stroke-width="1.7" stroke-linejoin="round" stroke-linecap="round" />
<polyline points="27.50,481.33 28.00,481.33 28.50,481.33 29.00,481.33 29.50,481.33 30.00,481.33 30.50,481.33 31.00,481.33 31.50,481.32 32.00,481.32 32.50,481.32 33.00,481.32 33.50,481.32 34.00,481.32 34.50,481.32 35.00,481.32 35.50,481.32 36.00,481.32 36.50,481.32 37.00,481.32 37.50,481.32 38.00,481.32 38.50,481.32 39.00,481.32 39.50,481.32 40.00,481.31 40.50,481.31 41.00,481.31 41.50,481.31 42.00,481.31 42.50,481.31 43.00,481.31 43.50,481.31 44.00,481.31 44.50,481.31 45.00,481.31 45.50,481.31 46.00,481.31 46.50,481.31 47.00,481.30 47.50,481.30 48.00,481.30 48.50,481.30 49.00,481.30 49.50,481.30 50.00,481.30 50.50,481.30 51.00,481.30 51.50,481.30 52.00,481.30 52.50,481.30 53.00,481.29 53.50,481.29 54.00,481.29 54.50,481.29 55.00,481.29 55.50,481.29 56.00,481.29 56.50,481.29 57.00,481.29 57.50,481.29 58.00,481.29 58.50,481.28 59.00,481.28 59.50,481.28 60.00,481.28 60.50,481.28 61.00,481.28 61.50,481.28 62.00,481.28 62.50,481.28 63.00,481.27 63.50,481.27 64.00,481.27 64.50,481.27 65.00,481.27 65.50,481.27 66.00,481.27 66.50,481.27 67.00,481.26 67.50,481.26 68.00,481.26 68.50,481.26 69.00,481.26 69.50,481.26 70.00,481.26 70.50,481.26 71.00,481.25 71.50,481.25 72.00,481.25 72.50,481.25 73.00,481.25 73.50,481.25 74.00,481.24 74.50,481.24 75.00,481.24 75.50,481.24 76.00,481.24 76.50,481.24 77.00,481.23 77.50,481.23 78.00,481.23 78.50,481.23 79.00,481.23 79.50,481.23 80.00,481.22 80.50,481.22 81.00,481.22 81.50,481.22 82.00,481.22 82.50,481.21 83.00,481.21 83.50,481.21 84.00,481.21 84.50,481.21 85.00,481.20 85.50,481.20 86.00,481.20 86.50,481.20 87.00,481.19 87.50,481.19 88.00,481.19 88.50,481.19 89.00,481.18 89.50,481.18 90.00,481.18 90.50,481.18 91.00,481.17 91.50,481.17 92.00,481.17 92.50,481.16 93.00,481.16 93.50,481.16 94.00,481.15 94.50,481.15 95.00,481.15 95.50,481.15 96.00,481.14 96.50,481.14 97.00,481.13 97.50,481.13 98.00,481.13 98.50,481.12 99.00,481.12 99.50,481.12 100.00,481.11 100.50,481.11 101.00,481.10 101.50,481.10 102.00,481.09 102.50,481.09 103.00,481.08 103.50,481.08 104.00,481.07 104.50,481.07 105.00,481.06 105.50,481.05 106.00,481.05 106.50,481.04 107.00,481.03 107.50,481.02 108.00,481.02 108.50,481.01 109.00,481.00 109.50,480.99 110.00,480.98 110.50,480.97 111.00,480.96 111.50,480.94 112.00,480.93 112.50,480.92 113.00,480.90 113.50,480.89 114.00,480.87 114.50,480.85 115.00,480.83 115.50,480.81 116.00,480.79 116.50,480.76 117.00,480.74 117.50,480.71 118.00,480.68 118.50,480.65 119.00,480.61 119.50,480.58 120.00,480.54 120.50,480.49 121.00,480.45 121.50,480.40 122.00,480.34 122.50,480.28 123.00,480.22 123.50,480.15 124.00,480.08 124.50,480.00 125.00,479.92 125.50,479.83 126.00,479.74 126.50,479.64 127.00,479.53 127.50,479.41 128.00,479.29 128.50,479.15 129.00,479.01 129.50,478.86 130.00,478.70 130.50,478.53 131.00,478.35 131.50,478.16 132.00,477.95 132.50,477.74 133.00,477.51 133.50,477.27 134.00,477.02 134.50,476.75 135.00,476.47 135.50,476.17 136.00,475.86 136.50,475.53 137.00,475.19 137.50,474.83 138.00,474.45 138.50,474.05 139.00,473.64 139.50,473.21 140.00,472.77 140.50,472.30 141.00,471.82 141.50,471.32 142.00,470.80 142.50,470.27 143.00,469.71 143.50,469.14 144.00,468.55 144.50,467.94 145.00,467.31 145.50,466.67 146.00,466.01 146.50,465.34 147.00,464.65 147.50,463.95 148.00,463.23 148.50,462.50 149.00,461.76 149.50,461.01 150.00,460.25 150.50,459.48 151.00,458.70 151.50,457.91 152.00,457.12 152.50,456.33 153.00,455.54 153.50,454.74 154.00,453.95 154.50,453.16 155.00,452.37 155.50,451.59 156.00,450.82 156.50,450.05 157.00,449.30 157.50,448.57 158.00,447.84 158.50,447.14 159.00,446.46 159.50,445.79 160.00,445.15 160.50,444.54 161.00,443.95 161.50,443.39 162.00,442.86 162.50,442.36 163.00,441.90 163.50,441.47 164.00,441.08 164.50,440.73 165.00,440.41 165.50,440.14 166.00,439.91 166.50,439.72 167.00,439.57 167.50,439.47 168.00,439.41 168.50,439.40 169.00,439.43 169.50,439.51 170.00,439.63 170.50,439.79 171.00,440.00 171.50,440.24 172.00,440.53 172.50,440.86 173.00,441.23 173.50,441.64 174.00,442.08 174.50,442.56 175.00,443.07 175.50,443.61 176.00,444.18 176.50,444.78 177.00,445.40 177.50,446.05 178.00,446.73 178.50,447.42 179.00,448.13 179.50,448.86 180.00,449.60 180.50,450.36 181.00,451.12 181.50,451.90 182.00,452.68 182.50,453.47 183.00,454.26 183.50,455.06 184.00,455.85 184.50,456.65 185.00,457.44 185.50,458.23 186.00,459.01 186.50,459.79 187.00,460.55 187.50,461.31 188.00,462.06 188.50,462.80 189.00,463.52 189.50,464.23 190.00,464.93 190.50,465.61 191.00,466.28 191.50,466.93 192.00,467.57 192.50,468.18 193.00,468.79 193.50,469.37 194.00,469.93 194.50,470.48 195.00,471.01 195.50,471.52 196.00,472.02 196.50,472.49 197.00,472.95 197.50,473.39 198.00,473.81 198.50,474.21 199.00,474.60 199.50,474.97 200.00,475.33 200.50,475.66 201.00,475.98 201.50,476.29 202.00,476.58 202.50,476.86 203.00,477.12 203.50,477.37 204.00,477.60 204.50,477.83 205.00,478.04 205.50,478.24 206.00,478.42 206.50,478.60 207.00,478.77 207.50,478.92 208.00,479.07 208.50,479.21 209.00,479.34 209.50,479.46 210.00,479.57 210.50,479.68 211.00,479.78 211.50,479.87 212.00,479.95 212.50,480.04 213.00,480.11 213.50,480.18 214.00,480.25 214.50,480.31 215.00,480.36 215.50,480.42 216.00,480.46 216.50,480.51 217.00,480.55 217.50,480.59 218.00,480.63 218.50,480.66 219.00,480.69 219.50,480.72 220.00,480.75 220.50,480.77 221.00,480.80 221.50,480.82 222.00,480.84 222.50,480.86 223.00,480.88 223.50,480.89 224.00,480.91 224.50,480.92 225.00,480.94 225.50,480.95 226.00,480.96 226.50,480.97 227.00,480.98 227.50,480.99 228.00,481.00 228.50,481.01 229.00,481.02 229.50,481.03 230.00,481.04 230.50,481.04 231.00,481.05 231.50,481.06 232.00,481.06 232.50,481.07 233.00,481.07 233.50,481.08 234.00,481.08 234.50,481.09 235.00,481.09 235.50,481.10 236.00,481.10 236.50,481.11 237.00,481.11 237.50,481.12 238.00,481.12 238.50,481.12 239.00,481.13 239.50,481.13 240.00,481.14 240.50,481.14 241.00,481.14 241.50,481.15 242.00,481.15 242.50,481.15 243.00,481.16 243.50,481.16 244.00,481.16 244.50,481.17 245.00,481.17 245.50,481.17 246.00,481.17 246.50,481.18 247.00,481.18 247.50,481.18 248.00,481.18 248.50,481.19 249.00,481.19 249.50,481.19 250.00,481.19 250.50,481.20 251.00,481.20 251.50,481.20 252.00,481.20 252.50,481.21 253.00,481.21 253.50,481.21 254.00,481.21 254.50,481.21 255.00,481.22 255.50,481.22 256.00,481.22 256.50,481.22 257.00,481.22 257.50,481.23 258.00,481.23 258.50,481.23 259.00,481.23 259.50,481.23 260.00,481.24 260.50,481.24 261.00,481.24 261.50,481.24 262.00,481.24 262.50,481.24 263.00,481.25 263.50,481.25 264.00,481.25 264.50,481.25 265.00,481.25 265.50,481.25 266.00,481.25 266.50,481.26 267.00,481.26 267.50,481.26 268.00,481.26 268.50,481.26 269.00,481.26 269.50,481.26 270.00,481.27 270.50,481.27 271.00,481.27 271.50,481.27 272.00,481.27 272.50,481.27 273.00,481.27 273.50,481.27 274.00,481.27 274.50,481.28 275.00,481.28 275.50,481.28 276.00,481.28 276.50,481.28 277.00,481.28 277.50,481.28 278.00,481.28 278.50,481.28 279.00,481.29 279.50,481.29 280.00,481.29 280.50,481.29 281.00,481.29 281.50,481.29 282.00,481.29 282.50,481.29 283.00,481.29 283.50,481.29 284.00,481.30 284.50,481.30 285.00,481.30 285.50,481.30 286.00,481.30 286.50,481.30 287.00,481.30 287.50,481.30 288.00,481.30 288.50,481.30 289.00,481.30 289.50,481.30 290.00,481.30 290.50,481.31 291.00,481.31 291.50,481.31 292.00,481.31 292.50,481.31 293.00,481.31 293.50,481.31 294.00,481.31 294.50,481.31 295.00,481.31 295.50,481.31 296.00,481.31 296.50,481.31 297.00,481.31 297.50,481.32 298.00,481.32 298.50,481.32 299.00,481.32 299.50,481.32 300.00,481.32 300.50,481.32 301.00,481.32 301.50,481.32 302.00,481.32 302.50,481.32 303.00,481.32 303.50,481.32 304.00,481.32 304.50,481.32 305.00,481.32 305.50,481.32 306.00,481.33 306.50,481.33 307.00,481.33 307.50,481.33 308.00,481.33 308.50,481.33 309.00,481.33 309.50,481.33 310.00,481.33 310.50,481.33 311.00,481.33 311.50,481.33 312.00,481.33 312.50,481.33 313.00,481.33 313.50,481.33 314.00,481.33 314.50,481.33 315.00,481.33 315.50,481.33 316.00,481.34 316.50,481.34 317.00,481.34 317.50,481.34 318.00,481.34 318.50,481.34 319.00,481.34 319.50,481.34 320.00,481.34 320.50,481.34 321.00,481.34 321.50,481.34 322.00,481.34 322.50,481.34 323.00,481.34 323.50,481.34 324.00,481.34 324.50,481.34 325.00,481.34 325.50,481.34 326.00,481.34 326.50,481.34 327.00,481.34" fill="none" stroke="#1a22e0" stroke-width="1.8" stroke-linejoin="round" stroke-linecap="round" />
<polyline points="27.50,481.64 28.00,481.64 28.50,481.63 29.00,481.63 29.50,481.62 30.00,481.62 30.50,481.61 31.00,481.61 31.50,481.61 32.00,481.60 32.50,481.60 33.00,481.59 33.50,481.59 34.00,481.58 34.50,481.58 35.00,481.57 35.50,481.57 36.00,481.56 36.50,481.56 37.00,481.55 37.50,481.55 38.00,481.54 38.50,481.54 39.00,481.53 39.50,481.53 40.00,481.52 40.50,481.51 41.00,481.51 41.50,481.50 42.00,481.50 42.50,481.49 43.00,481.49 43.50,481.48 44.00,481.47 44.50,481.47 45.00,481.46 45.50,481.46 46.00,481.45 46.50,481.44 47.00,481.44 47.50,481.43 48.00,481.42 48.50,481.42 49.00,481.41 49.50,481.40 50.00,481.40 50.50,481.39 51.00,481.38 51.50,481.38 52.00,481.37 52.50,481.36 53.00,481.36 53.50,481.35 54.00,481.34 54.50,481.33 55.00,481.33 55.50,481.32 56.00,481.31 56.50,481.30 57.00,481.30 57.50,481.29 58.00,481.28 58.50,481.27 59.00,481.26 59.50,481.25 60.00,481.25 60.50,481.24 61.00,481.23 61.50,481.22 62.00,481.21 62.50,481.20 63.00,481.19 63.50,481.18 64.00,481.17 64.50,481.16 65.00,481.15 65.50,481.15 66.00,481.14 66.50,481.13 67.00,481.12 67.50,481.11 68.00,481.09 68.50,481.08 69.00,481.07 69.50,481.06 70.00,481.05 70.50,481.04 71.00,481.03 71.50,481.02 72.00,481.01 72.50,481.00 73.00,480.98 73.50,480.97 74.00,480.96 74.50,480.95 75.00,480.93 75.50,480.92 76.00,480.91 76.50,480.90 77.00,480.88 77.50,480.87 78.00,480.86 78.50,480.84 79.00,480.83 79.50,480.81 80.00,480.80 80.50,480.79 81.00,480.77 81.50,480.76 82.00,480.74 82.50,480.73 83.00,480.71 83.50,480.69 84.00,480.68 84.50,480.66 85.00,480.64 85.50,480.63 86.00,480.61 86.50,480.59 87.00,480.57 87.50,480.56 88.00,480.54 88.50,480.52 89.00,480.50 89.50,480.48 90.00,480.46 90.50,480.44 91.00,480.42 91.50,480.40 92.00,480.38 92.50,480.35 93.00,480.33 93.50,480.31 94.00,480.28 94.50,480.26 95.00,480.24 95.50,480.21 96.00,480.19 96.50,480.16 97.00,480.13 97.50,480.10 98.00,480.08 98.50,480.05 99.00,480.02 99.50,479.99 100.00,479.95 100.50,479.92 101.00,479.89 101.50,479.85 102.00,479.82 102.50,479.78 103.00,479.74 103.50,479.70 104.00,479.66 104.50,479.62 105.00,479.57 105.50,479.53 106.00,479.48 106.50,479.43 107.00,479.38 107.50,479.33 108.00,479.28 108.50,479.22 109.00,479.16 109.50,479.10 110.00,479.03 110.50,478.97 111.00,478.90 111.50,478.82 112.00,478.75 112.50,478.67 113.00,478.59 113.50,478.50 114.00,478.41 114.50,478.31 115.00,478.21 115.50,478.11 116.00,478.00 116.50,477.89 117.00,477.77 117.50,477.65 118.00,477.52 118.50,477.38 119.00,477.24 119.50,477.09 120.00,476.93 120.50,476.77 121.00,476.60 121.50,476.42 122.00,476.23 122.50,476.03 123.00,475.83 123.50,475.61 124.00,475.39 124.50,475.15 125.00,474.91 125.50,474.65 126.00,474.38 126.50,474.10 127.00,473.81 127.50,473.50 128.00,473.18 128.50,472.85 129.00,472.50 129.50,472.14 130.00,471.76 130.50,471.36 131.00,470.95 131.50,470.53 132.00,470.08 132.50,469.62 133.00,469.14 133.50,468.64 134.00,468.12 134.50,467.59 135.00,467.03 135.50,466.45 136.00,465.85 136.50,465.23 137.00,464.59 137.50,463.93 138.00,463.24 138.50,462.53 139.00,461.80 139.50,461.04 140.00,460.26 140.50,459.45 141.00,458.62 141.50,457.77 142.00,456.89 142.50,455.99 143.00,455.06 143.50,454.11 144.00,453.13 144.50,452.12 145.00,451.09 145.50,450.04 146.00,448.96 146.50,447.85 147.00,446.73 147.50,445.57 148.00,444.40 148.50,443.19 149.00,441.97 149.50,440.72 150.00,439.46 150.50,438.16 151.00,436.85 151.50,435.52 152.00,434.17 152.50,432.80 153.00,431.41 153.50,430.01 154.00,428.59 154.50,427.15 155.00,425.70 155.50,424.24 156.00,422.77 156.50,421.28 157.00,419.79 157.50,418.29 158.00,416.78 158.50,415.28 159.00,413.76 159.50,412.25 160.00,410.74 160.50,409.23 161.00,407.72 161.50,406.22 162.00,404.73 162.50,403.25 163.00,401.78 163.50,400.32 164.00,398.89 164.50,397.47 165.00,396.07 165.50,394.69 166.00,393.34 166.50,392.02 167.00,390.72 167.50,389.46 168.00,388.24 168.50,387.05 169.00,385.90 169.50,384.79 170.00,383.73 170.50,382.71 171.00,381.74 171.50,380.82 172.00,379.96 172.50,379.15 173.00,378.39 173.50,377.70 174.00,377.07 174.50,376.49 175.00,375.98 175.50,375.54 176.00,375.16 176.50,374.85 177.00,374.61 177.50,374.44 178.00,374.33 178.50,374.30 179.00,374.33 179.50,374.44 180.00,374.61 180.50,374.85 181.00,375.16 181.50,375.54 182.00,375.98 182.50,376.49 183.00,377.07 183.50,377.70 184.00,378.39 184.50,379.15 185.00,379.96 185.50,380.82 186.00,381.74 186.50,382.71 187.00,383.73 187.50,384.79 188.00,385.90 188.50,387.05 189.00,388.24 189.50,389.46 190.00,390.72 190.50,392.02 191.00,393.34 191.50,394.69 192.00,396.07 192.50,397.47 193.00,398.89 193.50,400.32 194.00,401.78 194.50,403.25 195.00,404.73 195.50,406.22 196.00,407.72 196.50,409.23 197.00,410.74 197.50,412.25 198.00,413.76 198.50,415.28 199.00,416.78 199.50,418.29 200.00,419.79 200.50,421.28 201.00,422.77 201.50,424.24 202.00,425.70 202.50,427.15 203.00,428.59 203.50,430.01 204.00,431.41 204.50,432.80 205.00,434.17 205.50,435.52 206.00,436.85 206.50,438.16 207.00,439.46 207.50,440.72 208.00,441.97 208.50,443.19 209.00,444.40 209.50,445.57 210.00,446.73 210.50,447.85 211.00,448.96 211.50,450.04 212.00,451.09 212.50,452.12 213.00,453.13 213.50,454.11 214.00,455.06 214.50,455.99 215.00,456.89 215.50,457.77 216.00,458.62 216.50,459.45 217.00,460.26 217.50,461.04 218.00,461.80 218.50,462.53 219.00,463.24 219.50,463.93 220.00,464.59 220.50,465.23 221.00,465.85 221.50,466.45 222.00,467.03 222.50,467.59 223.00,468.12 223.50,468.64 224.00,469.14 224.50,469.62 225.00,470.08 225.50,470.53 226.00,470.95 226.50,471.36 227.00,471.76 227.50,472.14 228.00,472.50 228.50,472.85 229.00,473.18 229.50,473.50 230.00,473.81 230.50,474.10 231.00,474.38 231.50,474.65 232.00,474.91 232.50,475.15 233.00,475.39 233.50,475.61 234.00,475.83 234.50,476.03 235.00,476.23 235.50,476.42 236.00,476.60 236.50,476.77 237.00,476.93 237.50,477.09 238.00,477.24 238.50,477.38 239.00,477.52 239.50,477.65 240.00,477.77 240.50,477.89 241.00,478.00 241.50,478.11 242.00,478.21 242.50,478.31 243.00,478.41 243.50,478.50 244.00,478.59 244.50,478.67 245.00,478.75 245.50,478.82 246.00,478.90 246.50,478.97 247.00,479.03 247.50,479.10 248.00,479.16 248.50,479.22 249.00,479.28 249.50,479.33 250.00,479.38 250.50,479.43 251.00,479.48 251.50,479.53 252.00,479.57 252.50,479.62 253.00,479.66 253.50,479.70 254.00,479.74 254.50,479.78 255.00,479.82 255.50,479.85 256.00,479.89 256.50,479.92 257.00,479.95 257.50,479.99 258.00,480.02 258.50,480.05 259.00,480.08 259.50,480.10 260.00,480.13 260.50,480.16 261.00,480.19 261.50,480.21 262.00,480.24 262.50,480.26 263.00,480.28 263.50,480.31 264.00,480.33 264.50,480.35 265.00,480.38 265.50,480.40 266.00,480.42 266.50,480.44 267.00,480.46 267.50,480.48 268.00,480.50 268.50,480.52 269.00,480.54 269.50,480.56 270.00,480.57 270.50,480.59 271.00,480.61 271.50,480.63 272.00,480.64 272.50,480.66 273.00,480.68 273.50,480.69 274.00,480.71 274.50,480.73 275.00,480.74 275.50,480.76 276.00,480.77 276.50,480.79 277.00,480.80 277.50,480.81 278.00,480.83 278.50,480.84 279.00,480.86 279.50,480.87 280.00,480.88 280.50,480.90 281.00,480.91 281.50,480.92 282.00,480.93 282.50,480.95 283.00,480.96 283.50,480.97 284.00,480.98 284.50,481.00 285.00,481.01 285.50,481.02 286.00,481.03 286.50,481.04 287.00,481.05 287.50,481.06 288.00,481.07 288.50,481.08 289.00,481.09 289.50,481.11 290.00,481.12 290.50,481.13 291.00,481.14 291.50,481.15 292.00,481.15 292.50,481.16 293.00,481.17 293.50,481.18 294.00,481.19 294.50,481.20 295.00,481.21 295.50,481.22 296.00,481.23 296.50,481.24 297.00,481.25 297.50,481.25 298.00,481.26 298.50,481.27 299.00,481.28 299.50,481.29 300.00,481.30 300.50,481.30 301.00,481.31 301.50,481.32 302.00,481.33 302.50,481.33 303.00,481.34 303.50,481.35 304.00,481.36 304.50,481.36 305.00,481.37 305.50,481.38 306.00,481.38 306.50,481.39 307.00,481.40 307.50,481.40 308.00,481.41 308.50,481.42 309.00,481.42 309.50,481.43 310.00,481.44 310.50,481.44 311.00,481.45 311.50,481.46 312.00,481.46 312.50,481.47 313.00,481.47 313.50,481.48 314.00,481.49 314.50,481.49 315.00,481.50 315.50,481.50 316.00,481.51 316.50,481.51 317.00,481.52 317.50,481.53 318.00,481.53 318.50,481.54 319.00,481.54 319.50,481.55 320.00,481.55 320.50,481.56 321.00,481.56 321.50,481.57 322.00,481.57 322.50,481.58 323.00,481.58 323.50,481.59 324.00,481.59 324.50,481.60 325.00,481.60 325.50,481.61 326.00,481.61 326.50,481.61 327.00,481.62" fill="none" stroke="#e81c24" stroke-width="1.8" stroke-linejoin="round" stroke-linecap="round" />
<polyline points="27.50,480.85 28.00,480.84 28.50,480.83 29.00,480.83 29.50,480.82 30.00,480.81 30.50,480.80 31.00,480.79 31.50,480.79 32.00,480.78 32.50,480.77 33.00,480.76 33.50,480.75 34.00,480.74 34.50,480.74 35.00,480.73 35.50,480.72 36.00,480.71 36.50,480.70 37.00,480.69 37.50,480.68 38.00,480.67 38.50,480.66 39.00,480.65 39.50,480.64 40.00,480.63 40.50,480.62 41.00,480.61 41.50,480.60 42.00,480.59 42.50,480.58 43.00,480.57 43.50,480.56 44.00,480.55 44.50,480.54 45.00,480.53 45.50,480.52 46.00,480.50 46.50,480.49 47.00,480.48 47.50,480.47 48.00,480.46 48.50,480.44 49.00,480.43 49.50,480.42 50.00,480.41 50.50,480.39 51.00,480.38 51.50,480.37 52.00,480.35 52.50,480.34 53.00,480.32 53.50,480.31 54.00,480.29 54.50,480.28 55.00,480.26 55.50,480.25 56.00,480.23 56.50,480.21 57.00,480.20 57.50,480.18 58.00,480.16 58.50,480.15 59.00,480.13 59.50,480.11 60.00,480.09 60.50,480.07 61.00,480.05 61.50,480.03 62.00,480.01 62.50,479.99 63.00,479.96 63.50,479.94 64.00,479.92 64.50,479.89 65.00,479.87 65.50,479.84 66.00,479.82 66.50,479.79 67.00,479.76 67.50,479.74 68.00,479.71 68.50,479.68 69.00,479.65 69.50,479.61 70.00,479.58 70.50,479.55 71.00,479.52 71.50,479.48 72.00,479.44 72.50,479.41 73.00,479.37 73.50,479.33 74.00,479.29 74.50,479.25 75.00,479.20 75.50,479.16 76.00,479.12 76.50,479.07 77.00,479.02 77.50,478.97 78.00,478.92 78.50,478.87 79.00,478.82 79.50,478.76 80.00,478.71 80.50,478.65 81.00,478.59 81.50,478.53 82.00,478.47 82.50,478.41 83.00,478.34 83.50,478.28 84.00,478.21 84.50,478.14 85.00,478.07 85.50,478.00 86.00,477.92 86.50,477.85 87.00,477.77 87.50,477.69 88.00,477.61 88.50,477.53 89.00,477.44 89.50,477.36 90.00,477.27 90.50,477.18 91.00,477.09 91.50,477.00 92.00,476.91 92.50,476.81 93.00,476.71 93.50,476.62 94.00,476.52 94.50,476.41 95.00,476.31 95.50,476.21 96.00,476.10 96.50,475.99 97.00,475.88 97.50,475.77 98.00,475.66 98.50,475.55 99.00,475.43 99.50,475.31 100.00,475.19 100.50,475.07 101.00,474.95 101.50,474.83 102.00,474.70 102.50,474.57 103.00,474.44 103.50,474.31 104.00,474.18 104.50,474.04 105.00,473.91 105.50,473.77 106.00,473.62 106.50,473.48 107.00,473.33 107.50,473.18 108.00,473.03 108.50,472.87 109.00,472.71 109.50,472.55 110.00,472.38 110.50,472.21 111.00,472.04 111.50,471.86 112.00,471.68 112.50,471.49 113.00,471.29 113.50,471.09 114.00,470.89 114.50,470.68 115.00,470.46 115.50,470.24 116.00,470.00 116.50,469.76 117.00,469.52 117.50,469.26 118.00,468.99 118.50,468.72 119.00,468.43 119.50,468.14 120.00,467.83 120.50,467.51 121.00,467.18 121.50,466.83 122.00,466.47 122.50,466.10 123.00,465.71 123.50,465.31 124.00,464.89 124.50,464.46 125.00,464.01 125.50,463.53 126.00,463.04 126.50,462.54 127.00,462.01 127.50,461.46 128.00,460.88 128.50,460.29 129.00,459.67 129.50,459.03 130.00,458.37 130.50,457.67 131.00,456.96 131.50,456.22 132.00,455.45 132.50,454.65 133.00,453.82 133.50,452.97 134.00,452.08 134.50,451.17 135.00,450.22 135.50,449.25 136.00,448.24 136.50,447.20 137.00,446.12 137.50,445.02 138.00,443.88 138.50,442.71 139.00,441.50 139.50,440.26 140.00,438.99 140.50,437.68 141.00,436.34 141.50,434.96 142.00,433.55 142.50,432.10 143.00,430.62 143.50,429.11 144.00,427.56 144.50,425.98 145.00,424.37 145.50,422.73 146.00,421.05 146.50,419.35 147.00,417.61 147.50,415.84 148.00,414.05 148.50,412.23 149.00,410.38 149.50,408.51 150.00,406.61 150.50,404.69 151.00,402.74 151.50,400.78 152.00,398.80 152.50,396.80 153.00,394.79 153.50,392.76 154.00,390.72 154.50,388.67 155.00,386.61 155.50,384.55 156.00,382.48 156.50,380.41 157.00,378.34 157.50,376.28 158.00,374.22 158.50,372.16 159.00,370.12 159.50,368.10 160.00,366.08 160.50,364.09 161.00,362.12 161.50,360.18 162.00,358.26 162.50,356.37 163.00,354.52 163.50,352.70 164.00,350.93 164.50,349.20 165.00,347.51 165.50,345.88 166.00,344.29 166.50,342.77 167.00,341.30 167.50,339.90 168.00,338.56 168.50,337.30 169.00,336.10 169.50,334.98 170.00,333.93 170.50,332.97 171.00,332.09 171.50,331.29 172.00,330.58 172.50,329.96 173.00,329.43 173.50,328.99 174.00,328.64 174.50,328.38 175.00,328.23 175.50,328.16 176.00,328.19 176.50,328.32 177.00,328.54 177.50,328.86 178.00,329.27 178.50,329.77 179.00,330.36 179.50,331.04 180.00,331.81 180.50,332.67 181.00,333.61 181.50,334.63 182.00,335.73 182.50,336.90 183.00,338.15 183.50,339.47 184.00,340.85 184.50,342.30 185.00,343.82 185.50,345.39 186.00,347.01 186.50,348.69 187.00,350.41 187.50,352.18 188.00,354.00 188.50,355.85 189.00,357.74 189.50,359.66 190.00,361.61 190.50,363.58 191.00,365.59 191.50,367.61 192.00,369.65 192.50,371.70 193.00,373.77 193.50,375.85 194.00,377.94 194.50,380.03 195.00,382.12 195.50,384.21 196.00,386.30 196.50,388.39 197.00,390.47 197.50,392.54 198.00,394.61 198.50,396.66 199.00,398.69 199.50,400.72 200.00,402.72 200.50,404.70 201.00,406.67 201.50,408.61 202.00,410.54 202.50,412.43 203.00,414.31 203.50,416.15 204.00,417.97 204.50,419.76 205.00,421.52 205.50,423.26 206.00,424.96 206.50,426.63 207.00,428.27 207.50,429.88 208.00,431.45 208.50,433.00 209.00,434.51 209.50,435.98 210.00,437.43 210.50,438.84 211.00,440.21 211.50,441.55 212.00,442.86 212.50,444.14 213.00,445.38 213.50,446.58 214.00,447.76 214.50,448.90 215.00,450.01 215.50,451.08 216.00,452.13 216.50,453.14 217.00,454.13 217.50,455.08 218.00,456.00 218.50,456.89 219.00,457.75 219.50,458.59 220.00,459.39 220.50,460.17 221.00,460.92 221.50,461.65 222.00,462.35 222.50,463.02 223.00,463.67 223.50,464.30 224.00,464.90 224.50,465.48 225.00,466.04 225.50,466.57 226.00,467.09 226.50,467.58 227.00,468.06 227.50,468.52 228.00,468.96 228.50,469.38 229.00,469.78 229.50,470.17 230.00,470.54 230.50,470.90 231.00,471.24 231.50,471.57 232.00,471.88 232.50,472.18 233.00,472.47 233.50,472.75 234.00,473.01 234.50,473.27 235.00,473.51 235.50,473.74 236.00,473.96 236.50,474.18 237.00,474.38 237.50,474.57 238.00,474.76 238.50,474.94 239.00,475.11 239.50,475.28 240.00,475.43 240.50,475.58 241.00,475.73 241.50,475.87 242.00,476.00 242.50,476.13 243.00,476.25 243.50,476.37 244.00,476.48 244.50,476.59 245.00,476.69 245.50,476.79 246.00,476.89 246.50,476.98 247.00,477.07 247.50,477.16 248.00,477.24 248.50,477.32 249.00,477.40 249.50,477.47 250.00,477.54 250.50,477.61 251.00,477.68 251.50,477.75 252.00,477.81 252.50,477.87 253.00,477.93 253.50,477.99 254.00,478.04 254.50,478.10 255.00,478.15 255.50,478.20 256.00,478.25 256.50,478.30 257.00,478.35 257.50,478.39 258.00,478.44 258.50,478.48 259.00,478.53 259.50,478.57 260.00,478.61 260.50,478.65 261.00,478.69 261.50,478.73 262.00,478.76 262.50,478.80 263.00,478.84 263.50,478.87 264.00,478.91 264.50,478.94 265.00,478.97 265.50,479.00 266.00,479.04 266.50,479.07 267.00,479.10 267.50,479.13 268.00,479.16 268.50,479.19 269.00,479.22 269.50,479.24 270.00,479.27 270.50,479.30 271.00,479.33 271.50,479.35 272.00,479.38 272.50,479.41 273.00,479.43 273.50,479.46 274.00,479.48 274.50,479.50 275.00,479.53 275.50,479.55 276.00,479.57 276.50,479.60 277.00,479.62 277.50,479.64 278.00,479.66 278.50,479.68 279.00,479.71 279.50,479.73 280.00,479.75 280.50,479.77 281.00,479.79 281.50,479.81 282.00,479.83 282.50,479.85 283.00,479.87 283.50,479.88 284.00,479.90 284.50,479.92 285.00,479.94 285.50,479.96 286.00,479.97 286.50,479.99 287.00,480.01 287.50,480.03 288.00,480.04 288.50,480.06 289.00,480.08 289.50,480.09 290.00,480.11 290.50,480.12 291.00,480.14 291.50,480.15 292.00,480.17 292.50,480.18 293.00,480.20 293.50,480.21 294.00,480.23 294.50,480.24 295.00,480.26 295.50,480.27 296.00,480.28 296.50,480.30 297.00,480.31 297.50,480.32 298.00,480.34 298.50,480.35 299.00,480.36 299.50,480.38 300.00,480.39 300.50,480.40 301.00,480.41 301.50,480.42 302.00,480.44 302.50,480.45 303.00,480.46 303.50,480.47 304.00,480.48 304.50,480.49 305.00,480.51 305.50,480.52 306.00,480.53 306.50,480.54 307.00,480.55 307.50,480.56 308.00,480.57 308.50,480.58 309.00,480.59 309.50,480.60 310.00,480.61 310.50,480.62 311.00,480.63 311.50,480.64 312.00,480.65 312.50,480.66 313.00,480.67 313.50,480.68 314.00,480.69 314.50,480.70 315.00,480.71 315.50,480.71 316.00,480.72 316.50,480.73 317.00,480.74 317.50,480.75 318.00,480.76 318.50,480.77 319.00,480.78 319.50,480.78 320.00,480.79 320.50,480.80 321.00,480.81 321.50,480.82 322.00,480.82 322.50,480.83 323.00,480.84 323.50,480.85 324.00,480.85 324.50,480.86 325.00,480.87 325.50,480.88 326.00,480.88 326.50,480.89 327.00,480.90" fill="none" stroke="#111" stroke-width="1.8" stroke-linejoin="round" stroke-linecap="round" />
<rect x="367.5" y="290.3" width="307.29999999999995" height="196.0" fill="none" stroke="#000" stroke-width="2.5"/>
<path d="M367.50,486.3 V490.8 M414.78,486.3 V490.8 M462.05,486.3 V490.8 M509.33,486.3 V490.8 M556.61,486.3 V490.8 M603.88,486.3 V490.8 M651.16,486.3 V490.8 M391.14,486.3 V489.3 M438.42,486.3 V489.3 M485.69,486.3 V489.3 M532.97,486.3 V489.3 M580.25,486.3 V489.3 M627.52,486.3 V489.3 M674.80,486.3 V489.3 " stroke="#000" stroke-width="2.2" fill="none"/>
<path d="M364.2,486.3 H367.5" stroke="#000" stroke-width="2.4"/>
<text transform="translate(366.3,510.2) scale(1.0,0.92)" font-family="Liberation Serif" font-size="17.2" font-weight="bold" text-anchor="middle" >392</text>
<text transform="translate(414.5,510.2) scale(1.0,0.92)" font-family="Liberation Serif" font-size="17.2" font-weight="bold" text-anchor="middle" >394</text>
<text transform="translate(461.6,510.2) scale(1.0,0.92)" font-family="Liberation Serif" font-size="17.2" font-weight="bold" text-anchor="middle" >396</text>
<text transform="translate(508.4,510.2) scale(1.0,0.92)" font-family="Liberation Serif" font-size="17.2" font-weight="bold" text-anchor="middle" >398</text>
<text transform="translate(556.0,510.2) scale(1.0,0.92)" font-family="Liberation Serif" font-size="17.2" font-weight="bold" text-anchor="middle" >400</text>
<text transform="translate(604.6,510.2) scale(1.0,0.92)" font-family="Liberation Serif" font-size="17.2" font-weight="bold" text-anchor="middle" >402</text>
<text transform="translate(650.8,510.2) scale(1.0,0.92)" font-family="Liberation Serif" font-size="17.2" font-weight="bold" text-anchor="middle" >404</text>
<text transform="translate(450.4,539.6) scale(1,1.058)" font-family="Liberation Serif" font-size="17.7" font-weight="bold">Binding energy <tspan font-weight="normal">(eV)</tspan></text>
<text transform="translate(359.8,440.4) scale(1,1.025) rotate(-90)" font-family="Liberation Serif" font-size="18.3" font-weight="bold">Intensity <tspan font-weight="normal">(a.u.)</tspan></text>
<text transform="translate(397.8,369.4) scale(1.0,1.07)" font-family="Liberation Serif" font-size="23.5" font-weight="bold" text-anchor="start" >N 1s</text>
<ellipse cx="652.4" cy="313.7" rx="15.5" ry="15.8" fill="none" stroke="#000" stroke-width="2.2"/>
<text transform="translate(651.6,318.6) scale(1.0,1.07)" font-family="Liberation Serif" font-size="21" font-weight="bold" text-anchor="middle" >4</text>
<polyline points="473.00,471.00 600.00,471.00" fill="none" stroke="#a6d4ea" stroke-width="1.6" stroke-linejoin="round" stroke-linecap="round" />
<path d="M368.90,474.50 C369.70,474.70 369.53,473.23 371.30,475.10 C373.07,476.97 371.87,477.37 374.20,480.10 C376.53,482.83 375.97,484.00 378.30,483.30 C380.63,482.60 379.47,481.50 381.20,478.00 C382.93,474.50 381.57,474.93 383.50,472.80 C385.43,470.67 384.67,468.87 387.00,471.60 C389.33,474.33 388.53,480.60 390.50,481.00 C392.47,481.40 391.33,477.20 392.90,472.80 C394.47,468.40 393.47,468.40 395.20,467.80 C396.93,467.20 396.53,469.53 398.10,471.00 C399.67,472.47 398.53,473.27 399.90,472.20 C401.27,471.13 400.83,467.60 402.20,467.80 C403.57,468.00 402.83,469.40 404.00,472.80 C405.17,476.20 404.37,478.00 405.70,478.00 C407.03,478.00 406.43,474.53 408.00,472.80 C409.57,471.07 409.03,471.83 410.40,472.80 C411.77,473.77 410.93,475.90 412.10,475.70 C413.27,475.50 412.13,472.40 413.90,472.20 C415.67,472.00 414.50,471.80 417.40,475.10 C420.30,478.40 419.50,481.50 422.60,482.10 C425.70,482.70 424.53,480.40 426.70,476.90 C428.87,473.40 427.73,470.63 429.10,471.60 C430.47,472.57 429.43,479.40 430.80,479.80 C432.17,480.20 431.43,475.33 433.20,472.80 C434.97,470.27 433.97,473.87 436.10,472.20 C438.23,470.53 437.43,467.43 439.60,467.80 C441.77,468.17 440.43,470.00 442.60,473.30 C444.77,476.60 443.77,477.57 446.10,477.70 C448.43,477.83 447.53,474.60 449.60,473.70 C451.67,472.80 450.67,475.43 452.30,475.00 C453.93,474.57 452.90,471.37 454.50,472.40 C456.10,473.43 455.23,477.97 457.10,478.10 C458.97,478.23 457.93,477.77 460.10,472.80 C462.27,467.83 461.83,465.67 463.60,463.20 C465.37,460.73 464.20,462.48 465.40,465.40 C466.60,468.32 465.60,468.47 467.20,471.97 C468.80,475.47 468.33,475.76 470.20,475.90 C472.07,476.04 471.20,474.00 472.80,472.40 C474.40,470.80 473.60,472.07 475.00,471.10 C476.40,470.13 475.73,471.27 477.00,469.50 C478.27,467.73 477.63,468.57 478.80,465.80 C479.97,463.03 479.23,461.97 480.50,461.20 C481.77,460.43 481.10,461.63 482.60,463.50 C484.10,465.37 483.40,465.50 485.00,466.80 C486.60,468.10 486.03,469.60 487.40,467.40 C488.77,465.20 488.03,464.80 489.10,460.20 C490.17,455.60 489.57,455.07 490.60,453.60 C491.63,452.13 491.07,456.00 492.20,455.80 C493.33,455.60 492.73,455.40 494.00,453.00 C495.27,450.60 494.67,451.40 496.00,448.60 C497.33,445.80 496.67,447.60 498.00,444.60 C499.33,441.60 498.67,443.13 500.00,439.60 C501.33,436.07 500.80,437.53 502.00,434.00 C503.20,430.47 502.70,432.00 503.60,429.00 C504.50,426.00 503.83,426.60 504.70,425.00 C505.57,423.40 505.03,425.80 506.20,424.20 C507.37,422.60 506.63,423.27 508.20,420.20 C509.77,417.13 509.27,416.20 510.90,415.00 C512.53,413.80 511.63,417.53 513.10,416.60 C514.57,415.67 513.67,414.03 515.30,412.20 C516.93,410.37 516.17,410.73 518.00,411.10 C519.83,411.47 519.13,410.73 520.80,413.30 C522.47,415.87 521.73,418.60 523.00,418.80 C524.27,419.00 522.97,416.63 524.60,413.90 C526.23,411.17 526.37,413.57 527.90,410.60 C529.43,407.63 528.30,409.03 529.20,405.00 C530.10,400.97 529.93,402.87 530.60,398.50 C531.27,394.13 530.47,396.27 531.20,391.90 C531.93,387.53 531.90,385.40 532.80,385.40 C533.70,385.40 532.97,389.73 533.90,391.90 C534.83,394.07 534.87,393.73 535.60,391.90 C536.33,390.07 535.50,390.53 536.10,386.40 C536.70,382.27 536.43,383.67 537.40,379.50 C538.37,375.33 537.97,378.17 539.00,373.90 C540.03,369.63 539.50,371.52 540.50,366.68 C541.50,361.84 541.00,364.34 542.00,359.37 C543.00,354.40 542.50,356.56 543.50,351.77 C544.50,346.98 544.00,349.51 545.00,344.99 C546.00,340.48 545.50,342.79 546.50,338.22 C547.50,333.65 547.00,335.84 548.00,331.29 C549.00,326.73 548.50,328.94 549.50,324.56 C550.50,320.17 550.00,321.90 551.00,318.14 C552.00,314.37 551.50,316.25 552.50,313.27 C553.50,310.29 553.00,312.07 554.00,309.19 C555.00,306.31 554.50,306.03 555.50,304.62 C556.50,303.22 556.00,304.38 557.00,304.98 C558.00,305.58 557.50,305.30 558.50,306.42 C559.50,307.54 559.00,307.07 560.00,308.34 C561.00,309.60 560.50,308.18 561.50,310.21 C562.50,312.24 562.00,311.06 563.00,314.43 C564.00,317.80 563.50,316.19 564.50,320.33 C565.50,324.48 565.00,321.99 566.00,326.87 C567.00,331.75 566.50,329.29 567.50,334.98 C568.50,340.68 568.00,337.60 569.00,343.94 C570.00,350.29 569.50,347.53 570.50,354.01 C571.50,360.49 571.00,356.86 572.00,363.38 C573.00,369.90 572.50,366.75 573.50,373.56 C574.50,380.37 574.00,377.34 575.00,383.81 C576.00,390.29 575.50,387.12 576.50,392.98 C577.50,398.84 577.00,395.80 578.00,401.39 C579.00,406.97 578.50,404.08 579.50,409.74 C580.50,415.39 580.00,413.24 581.00,418.35 C582.00,423.45 581.50,420.39 582.50,425.05 C583.50,429.71 583.00,427.91 584.00,432.33 C585.00,436.75 584.50,434.17 585.50,438.31 C586.50,442.45 586.00,441.16 587.00,444.75 C588.00,448.33 587.50,446.28 588.50,449.06 C589.50,451.85 589.00,451.46 590.00,453.10 C591.00,454.74 590.50,453.07 591.50,453.97 C592.50,454.87 592.00,453.70 593.00,455.80 C594.00,457.90 593.00,456.86 594.50,460.26 C596.00,463.67 596.10,461.75 597.50,466.00 C598.90,470.25 597.27,473.80 598.70,473.00 C600.13,472.20 599.73,464.43 601.80,463.60 C603.87,462.77 602.63,467.37 604.90,470.50 C607.17,473.63 606.13,472.80 608.60,473.00 C611.07,473.20 610.23,471.93 612.30,471.10 C614.37,470.27 613.13,468.83 614.80,470.50 C616.47,472.17 615.63,477.13 617.30,476.10 C618.97,475.07 618.13,467.83 619.80,467.40 C621.47,466.97 620.23,472.13 622.30,474.80 C624.37,477.47 623.93,476.23 626.00,475.40 C628.07,474.57 626.23,470.83 628.50,472.30 C630.77,473.77 630.33,478.33 632.80,479.80 C635.27,481.27 634.03,478.37 635.90,476.70 C637.77,475.03 636.53,477.90 638.40,474.80 C640.27,471.70 639.43,468.63 641.50,467.40 C643.57,466.17 642.53,468.00 644.60,471.10 C646.67,474.20 645.63,477.73 647.70,476.70 C649.77,475.67 648.93,468.83 650.80,468.00 C652.67,467.17 651.43,472.53 653.30,474.20 C655.17,475.87 654.33,472.37 656.40,473.00 C658.47,473.63 657.63,475.50 659.50,476.10 C661.37,476.70 660.13,474.00 662.00,474.80 C663.87,475.60 663.27,480.57 665.10,478.50 C666.93,476.43 665.87,468.80 667.50,468.60 C669.13,468.40 668.33,475.83 670.00,477.90 C671.67,479.97 671.67,475.83 672.50,474.80" fill="none" stroke="#74a0dc" stroke-width="1.2" stroke-linejoin="round" stroke-linecap="round"/>
<polyline points="472.00,470.45 472.50,470.41 473.00,470.36 473.50,470.30 474.00,470.24 474.50,470.17 475.00,470.09 475.50,470.01 476.00,469.92 476.50,469.81 477.00,469.70 477.50,469.58 478.00,469.44 478.50,469.29 479.00,469.13 479.50,468.96 480.00,468.76 480.50,468.56 481.00,468.33 481.50,468.09 482.00,467.82 482.50,467.54 483.00,467.23 483.50,466.90 484.00,466.55 484.50,466.18 485.00,465.77 485.50,465.34 486.00,464.89 486.50,464.40 487.00,463.89 487.50,463.34 488.00,462.77 488.50,462.17 489.00,461.53 489.50,460.86 490.00,460.16 490.50,459.43 491.00,458.66 491.50,457.87 492.00,457.04 492.50,456.19 493.00,455.30 493.50,454.39 494.00,453.45 494.50,452.48 495.00,451.49 495.50,450.48 496.00,449.44 496.50,448.39 497.00,447.32 497.50,446.24 498.00,445.15 498.50,444.05 499.00,442.95 499.50,441.85 500.00,440.75 500.50,439.65 501.00,438.57 501.50,437.50 502.00,436.44 502.50,435.41 503.00,434.40 503.50,433.42 504.00,432.48 504.50,431.57 505.00,430.70 505.50,429.87 506.00,429.09 506.50,428.36 507.00,427.69 507.50,427.07 508.00,426.51 508.50,426.01 509.00,425.58 509.50,425.21 510.00,424.91 510.50,424.68 511.00,424.52 511.50,424.43 512.00,424.41 512.50,424.46 513.00,424.59 513.50,424.78 514.00,425.05 514.50,425.38 515.00,425.78 515.50,426.24 516.00,426.77 516.50,427.36 517.00,428.00 517.50,428.70 518.00,429.46 518.50,430.26 519.00,431.11 519.50,432.00 520.00,432.93 520.50,433.89 521.00,434.88 521.50,435.90 522.00,436.95 522.50,438.01 523.00,439.09 523.50,440.18 524.00,441.27 524.50,442.38 525.00,443.48 525.50,444.58 526.00,445.68 526.50,446.76 527.00,447.84 527.50,448.90 528.00,449.94 528.50,450.96 529.00,451.97 529.50,452.95 530.00,453.90 530.50,454.83 531.00,455.73 531.50,456.60 532.00,457.44 532.50,458.25 533.00,459.03 533.50,459.78 534.00,460.50 534.50,461.18 535.00,461.84 535.50,462.46 536.00,463.05 536.50,463.61 537.00,464.14 537.50,464.64 538.00,465.11 538.50,465.55 539.00,465.97 539.50,466.36 540.00,466.72 540.50,467.07 541.00,467.38 541.50,467.68 542.00,467.95 542.50,468.21 543.00,468.44 543.50,468.66 544.00,468.86 544.50,469.04 545.00,469.21 545.50,469.37 546.00,469.51 546.50,469.64 547.00,469.76 547.50,469.86 548.00,469.96 548.50,470.05 549.00,470.13 549.50,470.20 550.00,470.27 550.50,470.33 551.00,470.38 551.50,470.43 552.00,470.47 552.50,470.51 553.00,470.54 553.50,470.57 554.00,470.60 554.50,470.63 555.00,470.65 555.50,470.67 556.00,470.68 556.50,470.70 557.00,470.71 557.50,470.72 558.00,470.73 558.50,470.74 559.00,470.75 559.50,470.76 560.00,470.76 560.50,470.77 561.00,470.77 561.50,470.78 562.00,470.78 562.50,470.78 563.00,470.79 563.50,470.79 564.00,470.79 564.50,470.79 565.00,470.79 565.50,470.79 566.00,470.79 566.50,470.80 567.00,470.80 567.50,470.80 568.00,470.80 568.50,470.80 569.00,470.80 569.50,470.80 570.00,470.80 570.50,470.80 571.00,470.80 571.50,470.80 572.00,470.80 572.50,470.80 573.00,470.80 573.50,470.80 574.00,470.80 574.50,470.80 575.00,470.80 575.50,470.80 576.00,470.80 576.50,470.80 577.00,470.80 577.50,470.80 578.00,470.80 578.50,470.80 579.00,470.80 579.50,470.80 580.00,470.80 580.50,470.80 581.00,470.80 581.50,470.80 582.00,470.80 582.50,470.80 583.00,470.80 583.50,470.80 584.00,470.80 584.50,470.80 585.00,470.80 585.50,470.80 586.00,470.80 586.50,470.80 587.00,470.80 587.50,470.80 588.00,470.80 588.50,470.80 589.00,470.80 589.50,470.80 590.00,470.80 590.50,470.80 591.00,470.80 591.50,470.80 592.00,470.80 592.50,470.80 593.00,470.80 593.50,470.80 594.00,470.80 594.50,470.80 595.00,470.80 595.50,470.80 596.00,470.80 596.50,470.80 597.00,470.80 597.50,470.80 598.00,470.80 598.50,470.80 599.00,470.80 599.50,470.80 600.00,470.80 600.50,470.80 601.00,470.80" fill="none" stroke="#e23ce6" stroke-width="1.8" stroke-linejoin="round" stroke-linecap="round" />
<polyline points="472.00,470.80 472.50,470.80 473.00,470.79 473.50,470.79 474.00,470.79 474.50,470.79 475.00,470.79 475.50,470.79 476.00,470.79 476.50,470.79 477.00,470.79 477.50,470.78 478.00,470.78 478.50,470.78 479.00,470.78 479.50,470.77 480.00,470.77 480.50,470.77 481.00,470.76 481.50,470.76 482.00,470.76 482.50,470.75 483.00,470.74 483.50,470.74 484.00,470.73 484.50,470.72 485.00,470.71 485.50,470.70 486.00,470.69 486.50,470.68 487.00,470.67 487.50,470.65 488.00,470.64 488.50,470.62 489.00,470.60 489.50,470.58 490.00,470.55 490.50,470.53 491.00,470.50 491.50,470.47 492.00,470.43 492.50,470.40 493.00,470.36 493.50,470.31 494.00,470.27 494.50,470.22 495.00,470.16 495.50,470.10 496.00,470.03 496.50,469.96 497.00,469.89 497.50,469.80 498.00,469.71 498.50,469.62 499.00,469.51 499.50,469.40 500.00,469.28 500.50,469.15 501.00,469.02 501.50,468.87 502.00,468.71 502.50,468.54 503.00,468.36 503.50,468.17 504.00,467.96 504.50,467.74 505.00,467.51 505.50,467.26 506.00,467.00 506.50,466.72 507.00,466.42 507.50,466.11 508.00,465.78 508.50,465.43 509.00,465.06 509.50,464.67 510.00,464.26 510.50,463.84 511.00,463.38 511.50,462.91 512.00,462.41 512.50,461.89 513.00,461.35 513.50,460.78 514.00,460.19 514.50,459.57 515.00,458.93 515.50,458.26 516.00,457.56 516.50,456.84 517.00,456.09 517.50,455.32 518.00,454.52 518.50,453.69 519.00,452.84 519.50,451.96 520.00,451.06 520.50,450.13 521.00,449.18 521.50,448.20 522.00,447.20 522.50,446.18 523.00,445.13 523.50,444.07 524.00,442.98 524.50,441.88 525.00,440.76 525.50,439.62 526.00,438.47 526.50,437.31 527.00,436.14 527.50,434.95 528.00,433.76 528.50,432.57 529.00,431.37 529.50,430.16 530.00,428.96 530.50,427.76 531.00,426.57 531.50,425.38 532.00,424.21 532.50,423.04 533.00,421.89 533.50,420.75 534.00,419.64 534.50,418.54 535.00,417.47 535.50,416.43 536.00,415.41 536.50,414.43 537.00,413.47 537.50,412.56 538.00,411.68 538.50,410.84 539.00,410.04 539.50,409.29 540.00,408.58 540.50,407.93 541.00,407.32 541.50,406.76 542.00,406.25 542.50,405.80 543.00,405.40 543.50,405.05 544.00,404.77 544.50,404.54 545.00,404.37 545.50,404.26 546.00,404.20 546.50,404.21 547.00,404.28 547.50,404.40 548.00,404.58 548.50,404.82 549.00,405.12 549.50,405.47 550.00,405.88 550.50,406.35 551.00,406.86 551.50,407.43 552.00,408.05 552.50,408.72 553.00,409.44 553.50,410.20 554.00,411.00 554.50,411.85 555.00,412.74 555.50,413.66 556.00,414.62 556.50,415.61 557.00,416.63 557.50,417.68 558.00,418.76 558.50,419.86 559.00,420.98 559.50,422.12 560.00,423.27 560.50,424.44 561.00,425.62 561.50,426.81 562.00,428.00 562.50,429.20 563.00,430.41 563.50,431.61 564.00,432.81 564.50,434.00 565.00,435.19 565.50,436.37 566.00,437.55 566.50,438.71 567.00,439.85 567.50,440.99 568.00,442.10 568.50,443.20 569.00,444.28 569.50,445.34 570.00,446.38 570.50,447.40 571.00,448.40 571.50,449.37 572.00,450.32 572.50,451.24 573.00,452.14 573.50,453.01 574.00,453.86 574.50,454.68 575.00,455.48 575.50,456.25 576.00,456.99 576.50,457.70 577.00,458.39 577.50,459.06 578.00,459.70 578.50,460.31 579.00,460.90 579.50,461.46 580.00,462.00 580.50,462.51 581.00,463.01 581.50,463.48 582.00,463.92 582.50,464.35 583.00,464.75 583.50,465.14 584.00,465.50 584.50,465.85 585.00,466.17 585.50,466.48 586.00,466.78 586.50,467.05 587.00,467.31 587.50,467.56 588.00,467.79 588.50,468.00 589.00,468.21 589.50,468.40 590.00,468.57 590.50,468.74 591.00,468.90 591.50,469.04 592.00,469.18 592.50,469.31 593.00,469.42 593.50,469.53 594.00,469.64 594.50,469.73 595.00,469.82 595.50,469.90 596.00,469.98 596.50,470.05 597.00,470.11 597.50,470.17 598.00,470.23 598.50,470.28 599.00,470.32 599.50,470.37 600.00,470.41 600.50,470.44 601.00,470.47" fill="none" stroke="#1a2ee0" stroke-width="1.8" stroke-linejoin="round" stroke-linecap="round" />
<polyline points="472.00,470.80 472.50,470.80 473.00,470.80 473.50,470.80 474.00,470.80 474.50,470.80 475.00,470.80 475.50,470.80 476.00,470.80 476.50,470.80 477.00,470.80 477.50,470.80 478.00,470.80 478.50,470.80 479.00,470.80 479.50,470.80 480.00,470.80 480.50,470.80 481.00,470.80 481.50,470.80 482.00,470.80 482.50,470.80 483.00,470.80 483.50,470.80 484.00,470.80 484.50,470.80 485.00,470.80 485.50,470.80 486.00,470.80 486.50,470.80 487.00,470.80 487.50,470.80 488.00,470.80 488.50,470.80 489.00,470.80 489.50,470.80 490.00,470.80 490.50,470.80 491.00,470.80 491.50,470.80 492.00,470.80 492.50,470.80 493.00,470.80 493.50,470.80 494.00,470.80 494.50,470.80 495.00,470.80 495.50,470.80 496.00,470.80 496.50,470.80 497.00,470.80 497.50,470.80 498.00,470.79 498.50,470.79 499.00,470.79 499.50,470.79 500.00,470.79 500.50,470.79 501.00,470.79 501.50,470.79 502.00,470.78 502.50,470.78 503.00,470.78 503.50,470.77 504.00,470.77 504.50,470.76 505.00,470.76 505.50,470.75 506.00,470.75 506.50,470.74 507.00,470.73 507.50,470.72 508.00,470.71 508.50,470.69 509.00,470.68 509.50,470.66 510.00,470.64 510.50,470.62 511.00,470.60 511.50,470.57 512.00,470.54 512.50,470.51 513.00,470.47 513.50,470.43 514.00,470.38 514.50,470.33 515.00,470.27 515.50,470.21 516.00,470.13 516.50,470.05 517.00,469.97 517.50,469.87 518.00,469.76 518.50,469.64 519.00,469.51 519.50,469.37 520.00,469.21 520.50,469.04 521.00,468.85 521.50,468.65 522.00,468.42 522.50,468.18 523.00,467.92 523.50,467.63 524.00,467.31 524.50,466.97 525.00,466.61 525.50,466.21 526.00,465.78 526.50,465.32 527.00,464.83 527.50,464.29 528.00,463.72 528.50,463.11 529.00,462.45 529.50,461.76 530.00,461.01 530.50,460.22 531.00,459.37 531.50,458.47 532.00,457.52 532.50,456.52 533.00,455.46 533.50,454.33 534.00,453.15 534.50,451.91 535.00,450.60 535.50,449.23 536.00,447.80 536.50,446.30 537.00,444.74 537.50,443.11 538.00,441.42 538.50,439.66 539.00,437.83 539.50,435.95 540.00,434.00 540.50,431.99 541.00,429.92 541.50,427.79 542.00,425.61 542.50,423.38 543.00,421.09 543.50,418.77 544.00,416.40 544.50,413.99 545.00,411.56 545.50,409.09 546.00,406.60 546.50,404.09 547.00,401.57 547.50,399.05 548.00,396.52 548.50,394.00 549.00,391.50 549.50,389.01 550.00,386.55 550.50,384.12 551.00,381.74 551.50,379.40 552.00,377.12 552.50,374.90 553.00,372.74 553.50,370.67 554.00,368.67 554.50,366.77 555.00,364.96 555.50,363.26 556.00,361.66 556.50,360.17 557.00,358.81 557.50,357.56 558.00,356.45 558.50,355.47 559.00,354.62 559.50,353.91 560.00,353.34 560.50,352.92 561.00,352.64 561.50,352.51 562.00,352.53 562.50,352.69 563.00,352.99 563.50,353.45 564.00,354.04 564.50,354.78 565.00,355.65 565.50,356.66 566.00,357.80 566.50,359.07 567.00,360.46 567.50,361.97 568.00,363.59 568.50,365.32 569.00,367.14 569.50,369.07 570.00,371.08 570.50,373.17 571.00,375.34 571.50,377.57 572.00,379.86 572.50,382.21 573.00,384.61 573.50,387.04 574.00,389.51 574.50,392.00 575.00,394.51 575.50,397.03 576.00,399.55 576.50,402.08 577.00,404.59 577.50,407.10 578.00,409.58 578.50,412.05 579.00,414.48 579.50,416.88 580.00,419.24 580.50,421.55 581.00,423.83 581.50,426.05 582.00,428.22 582.50,430.34 583.00,432.39 583.50,434.39 584.00,436.33 584.50,438.20 585.00,440.01 585.50,441.76 586.00,443.44 586.50,445.06 587.00,446.61 587.50,448.09 588.00,449.51 588.50,450.87 589.00,452.16 589.50,453.39 590.00,454.56 590.50,455.67 591.00,456.72 591.50,457.72 592.00,458.66 592.50,459.54 593.00,460.38 593.50,461.16 594.00,461.90 594.50,462.59 595.00,463.23 595.50,463.84 596.00,464.40 596.50,464.93 597.00,465.42 597.50,465.87 598.00,466.29 598.50,466.68 599.00,467.04 599.50,467.38 600.00,467.69 600.50,467.97 601.00,468.23" fill="none" stroke="#e81c24" stroke-width="1.8" stroke-linejoin="round" stroke-linecap="round" />
<polyline points="369.00,470.80 369.50,470.80 370.00,470.80 370.50,470.80 371.00,470.80 371.50,470.80 372.00,470.80 372.50,470.80 373.00,470.80 373.50,470.80 374.00,470.80 374.50,470.80 375.00,470.80 375.50,470.80 376.00,470.80 376.50,470.80 377.00,470.80 377.50,470.80 378.00,470.80 378.50,470.80 379.00,470.80 379.50,470.80 380.00,470.80 380.50,470.80 381.00,470.80 381.50,470.80 382.00,470.80 382.50,470.80 383.00,470.80 383.50,470.80 384.00,470.80 384.50,470.80 385.00,470.80 385.50,470.80 386.00,470.80 386.50,470.80 387.00,470.80 387.50,470.80 388.00,470.80 388.50,470.80 389.00,470.80 389.50,470.80 390.00,470.80 390.50,470.80 391.00,470.80 391.50,470.80 392.00,470.80 392.50,470.80 393.00,470.80 393.50,470.80 394.00,470.80 394.50,470.80 395.00,470.80 395.50,470.80 396.00,470.80 396.50,470.80 397.00,470.80 397.50,470.80 398.00,470.80 398.50,470.80 399.00,470.80 399.50,470.80 400.00,470.80 400.50,470.80 401.00,470.80 401.50,470.80 402.00,470.80 402.50,470.80 403.00,470.80 403.50,470.80 404.00,470.80 404.50,470.80 405.00,470.80 405.50,470.80 406.00,470.80 406.50,470.80 407.00,470.80 407.50,470.80 408.00,470.80 408.50,470.80 409.00,470.80 409.50,470.80 410.00,470.80 410.50,470.80 411.00,470.80 411.50,470.80 412.00,470.80 412.50,470.80 413.00,470.80 413.50,470.80 414.00,470.80 414.50,470.80 415.00,470.80 415.50,470.80 416.00,470.80 416.50,470.80 417.00,470.80 417.50,470.80 418.00,470.80 418.50,470.80 419.00,470.80 419.50,470.80 420.00,470.80 420.50,470.80 421.00,470.80 421.50,470.80 422.00,470.80 422.50,470.80 423.00,470.80 423.50,470.80 424.00,470.80 424.50,470.80 425.00,470.80 425.50,470.80 426.00,470.80 426.50,470.80 427.00,470.80 427.50,470.80 428.00,470.80 428.50,470.80 429.00,470.80 429.50,470.80 430.00,470.80 430.50,470.80 431.00,470.80 431.50,470.80 432.00,470.80 432.50,470.80 433.00,470.80 433.50,470.80 434.00,470.80 434.50,470.80 435.00,470.80 435.50,470.80 436.00,470.80 436.50,470.80 437.00,470.80 437.50,470.80 438.00,470.80 438.50,470.80 439.00,470.80 439.50,470.80 440.00,470.80 440.50,470.80 441.00,470.80 441.50,470.80 442.00,470.80 442.50,470.80 443.00,470.80 443.50,470.80 444.00,470.80 444.50,470.80 445.00,470.80 445.50,470.80 446.00,470.80 446.50,470.80 447.00,470.80 447.50,470.80 448.00,470.80 448.50,470.80 449.00,470.80 449.50,470.80 450.00,470.80 450.50,470.80 451.00,470.80 451.50,470.80 452.00,470.80 452.50,470.80 453.00,470.80 453.50,470.80 454.00,470.80 454.50,470.80 455.00,470.80 455.50,470.80 456.00,470.80 456.50,470.80 457.00,470.80 457.50,470.79 458.00,470.79 458.50,470.79 459.00,470.79 459.50,470.79 460.00,470.79 460.50,470.79 461.00,470.78 461.50,470.78 462.00,470.78 462.50,470.77 463.00,470.77 463.50,470.77 464.00,470.76 464.50,470.75 465.00,470.75 465.50,470.74 466.00,470.73 466.50,470.72 467.00,470.70 467.50,470.69 468.00,470.67 468.50,470.66 469.00,470.64 469.50,470.61 470.00,470.59 470.50,470.56 471.00,470.53 471.50,470.49 472.00,470.45 472.50,470.40 473.00,470.35 473.50,470.30 474.00,470.23 474.50,470.16 475.00,470.09 475.50,470.00 476.00,469.91 476.50,469.80 477.00,469.69 477.50,469.57 478.00,469.43 478.50,469.28 479.00,469.12 479.50,468.94 480.00,468.74 480.50,468.53 481.00,468.30 481.50,468.06 482.00,467.79 482.50,467.50 483.00,467.19 483.50,466.86 484.00,466.50 484.50,466.12 485.00,465.71 485.50,465.27 486.00,464.80 486.50,464.31 487.00,463.78 487.50,463.23 488.00,462.64 488.50,462.02 489.00,461.37 489.50,460.68 490.00,459.96 490.50,459.21 491.00,458.42 491.50,457.60 492.00,456.74 492.50,455.86 493.00,454.94 493.50,453.98 494.00,453.00 494.50,451.99 495.00,450.95 495.50,449.88 496.00,448.79 496.50,447.68 497.00,446.54 497.50,445.39 498.00,444.22 498.50,443.03 499.00,441.83 499.50,440.63 500.00,439.42 500.50,438.21 501.00,437.00 501.50,435.79 502.00,434.59 502.50,433.40 503.00,432.22 503.50,431.06 504.00,429.92 504.50,428.80 505.00,427.71 505.50,426.65 506.00,425.62 506.50,424.62 507.00,423.66 507.50,422.74 508.00,421.85 508.50,421.02 509.00,420.22 509.50,419.47 510.00,418.76 510.50,418.10 511.00,417.49 511.50,416.92 512.00,416.39 512.50,415.91 513.00,415.48 513.50,415.08 514.00,414.73 514.50,414.41 515.00,414.13 515.50,413.89 516.00,413.67 516.50,413.48 517.00,413.31 517.50,413.16 518.00,413.03 518.50,412.90 519.00,412.79 519.50,412.68 520.00,412.57 520.50,412.45 521.00,412.32 521.50,412.18 522.00,412.02 522.50,411.83 523.00,411.62 523.50,411.37 524.00,411.09 524.50,410.77 525.00,410.40 525.50,409.99 526.00,409.52 526.50,409.00 527.00,408.42 527.50,407.78 528.00,407.08 528.50,406.31 529.00,405.48 529.50,404.57 530.00,403.59 530.50,402.55 531.00,401.42 531.50,400.23 532.00,398.96 532.50,397.61 533.00,396.20 533.50,394.70 534.00,393.14 534.50,391.50 535.00,389.79 535.50,388.02 536.00,386.18 536.50,384.27 537.00,382.30 537.50,380.27 538.00,378.19 538.50,376.05 539.00,373.86 539.50,371.63 540.00,369.35 540.50,367.04 541.00,364.69 541.50,362.32 542.00,359.92 542.50,357.50 543.00,355.08 543.50,352.64 544.00,350.20 544.50,347.77 545.00,345.35 545.50,342.94 546.00,340.55 546.50,338.20 547.00,335.88 547.50,333.61 548.00,331.38 548.50,329.21 549.00,327.10 549.50,325.06 550.00,323.09 550.50,321.21 551.00,319.42 551.50,317.72 552.00,316.13 552.50,314.64 553.00,313.27 553.50,312.01 554.00,310.88 554.50,309.88 555.00,309.01 555.50,308.28 556.00,307.69 556.50,307.25 557.00,306.96 557.50,306.82 558.00,306.83 558.50,307.00 559.00,307.33 559.50,307.81 560.00,308.45 560.50,309.25 561.00,310.21 561.50,311.32 562.00,312.58 562.50,313.99 563.00,315.56 563.50,317.26 564.00,319.11 564.50,321.09 565.00,323.20 565.50,325.44 566.00,327.80 566.50,330.27 567.00,332.86 567.50,335.54 568.00,338.31 568.50,341.17 569.00,344.11 569.50,347.13 570.00,350.20 570.50,353.34 571.00,356.52 571.50,359.74 572.00,362.99 572.50,366.27 573.00,369.56 573.50,372.87 574.00,376.17 574.50,379.47 575.00,382.76 575.50,386.03 576.00,389.27 576.50,392.48 577.00,395.65 577.50,398.78 578.00,401.86 578.50,404.89 579.00,407.86 579.50,410.76 580.00,413.61 580.50,416.38 581.00,419.08 581.50,421.70 582.00,424.25 582.50,426.72 583.00,429.10 583.50,431.41 584.00,433.63 584.50,435.77 585.00,437.83 585.50,439.81 586.00,441.70 586.50,443.51 587.00,445.23 587.50,446.88 588.00,448.45 588.50,449.94 589.00,451.36 589.50,452.70 590.00,453.97 590.50,455.17 591.00,456.30 591.50,457.37 592.00,458.37 592.50,459.32 593.00,460.20 593.50,461.03 594.00,461.80 594.50,462.53 595.00,463.20 595.50,463.83 596.00,464.41 596.50,464.96 597.00,465.46 597.50,465.92 598.00,466.36 598.50,466.75 599.00,467.12 599.50,467.46 600.00,467.77 600.50,468.05 601.00,468.31 601.50,468.55 602.00,468.77 602.50,468.97 603.00,469.15 603.50,469.32 604.00,469.47 604.50,469.61 605.00,469.73 605.50,469.84 606.00,469.95 606.50,470.04 607.00,470.12 607.50,470.19 608.00,470.26 608.50,470.32 609.00,470.38 609.50,470.42 610.00,470.47 610.50,470.51 611.00,470.54 611.50,470.57 612.00,470.60 612.50,470.62 613.00,470.64 613.50,470.66 614.00,470.68 614.50,470.70 615.00,470.71 615.50,470.72 616.00,470.73 616.50,470.74 617.00,470.75 617.50,470.75 618.00,470.76 618.50,470.77 619.00,470.77 619.50,470.77 620.00,470.78 620.50,470.78 621.00,470.78 621.50,470.79 622.00,470.79 622.50,470.79 623.00,470.79 623.50,470.79 624.00,470.79 624.50,470.79 625.00,470.80 625.50,470.80 626.00,470.80 626.50,470.80 627.00,470.80 627.50,470.80 628.00,470.80 628.50,470.80 629.00,470.80 629.50,470.80 630.00,470.80 630.50,470.80 631.00,470.80 631.50,470.80 632.00,470.80 632.50,470.80 633.00,470.80 633.50,470.80 634.00,470.80 634.50,470.80 635.00,470.80 635.50,470.80 636.00,470.80 636.50,470.80 637.00,470.80 637.50,470.80 638.00,470.80 638.50,470.80 639.00,470.80 639.50,470.80 640.00,470.80 640.50,470.80 641.00,470.80 641.50,470.80 642.00,470.80 642.50,470.80 643.00,470.80 643.50,470.80 644.00,470.80 644.50,470.80 645.00,470.80 645.50,470.80 646.00,470.80 646.50,470.80 647.00,470.80 647.50,470.80 648.00,470.80 648.50,470.80 649.00,470.80 649.50,470.80 650.00,470.80 650.50,470.80 651.00,470.80 651.50,470.80 652.00,470.80 652.50,470.80 653.00,470.80 653.50,470.80 654.00,470.80 654.50,470.80 655.00,470.80 655.50,470.80 656.00,470.80 656.50,470.80 657.00,470.80 657.50,470.80 658.00,470.80 658.50,470.80 659.00,470.80 659.50,470.80 660.00,470.80 660.50,470.80 661.00,470.80 661.50,470.80 662.00,470.80 662.50,470.80 663.00,470.80 663.50,470.80 664.00,470.80 664.50,470.80 665.00,470.80 665.50,470.80 666.00,470.80 666.50,470.80 667.00,470.80 667.50,470.80 668.00,470.80 668.50,470.80 669.00,470.80 669.50,470.80 670.00,470.80 670.50,470.80 671.00,470.80 671.50,470.80 672.00,470.80 672.50,470.80 673.00,470.80" fill="none" stroke="#181830" stroke-width="1.8" stroke-linejoin="round" stroke-linecap="round" />
<polyline points="367.50,470.80 474.50,470.80" fill="none" stroke="#0c0c58" stroke-width="1.8" stroke-linejoin="round" stroke-linecap="round" />
<polyline points="599.00,470.80 673.50,470.80" fill="none" stroke="#0c0c58" stroke-width="1.8" stroke-linejoin="round" stroke-linecap="round" />
</svg>
</body></html>
